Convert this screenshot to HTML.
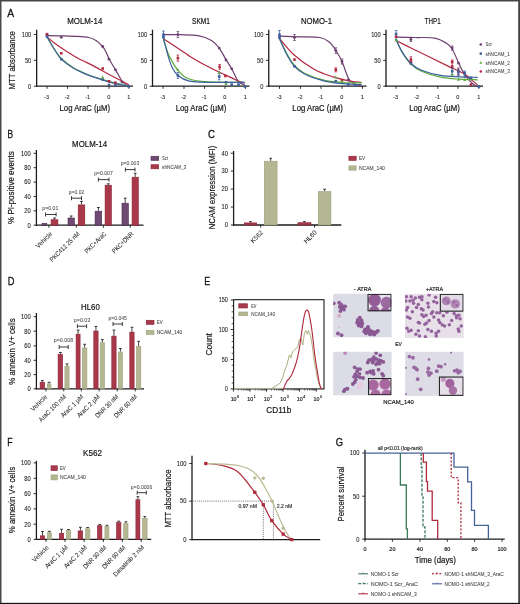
<!DOCTYPE html>
<html><head><meta charset="utf-8"><style>
html,body{margin:0;padding:0;background:#fff;width:520px;height:604px;overflow:hidden}
#w{will-change:transform;width:520px;height:604px}
svg{display:block}
text{font-family:"Liberation Sans", sans-serif}
</style></head><body><div id="w">
<svg width="520" height="604" viewBox="0 0 520 604">
<rect width="520" height="604" fill="#fff"/>
<rect x="0" y="0" width="520" height="1.5" fill="#464646"/>
<rect x="0" y="0" width="1.5" height="604" fill="#4a4a4a"/>
<rect x="518.2" y="0" width="1.8" height="604" fill="#444"/>
<rect x="0" y="602.85" width="520" height="1.15" fill="#111"/>
<text x="7.30" y="16.90" font-size="11.4" text-anchor="start" fill="#111" textLength="6.90" lengthAdjust="spacingAndGlyphs" stroke="#111" stroke-width="0.3">A</text>
<text x="15.40" y="60.30" font-size="9.2" text-anchor="middle" fill="#161616" transform="rotate(-90 15.40 60.30)" textLength="58.20" lengthAdjust="spacingAndGlyphs" stroke="#161616" stroke-width="0.2">MTT absorbance</text>
<line x1="36.65" y1="29.70" x2="36.65" y2="86.85" stroke="#1c1c1c" stroke-width="1.3"/>
<line x1="36.00" y1="86.20" x2="133.00" y2="86.20" stroke="#1c1c1c" stroke-width="1.3"/>
<line x1="33.85" y1="34.50" x2="36.65" y2="34.50" stroke="#1c1c1c" stroke-width="0.9"/>
<text x="31.25" y="36.90" font-size="6.6" text-anchor="end" fill="#222" textLength="9.47" lengthAdjust="spacingAndGlyphs" stroke="#222" stroke-width="0.08">100</text>
<line x1="33.85" y1="60.35" x2="36.65" y2="60.35" stroke="#1c1c1c" stroke-width="0.9"/>
<text x="31.25" y="62.75" font-size="6.6" text-anchor="end" fill="#222" textLength="6.31" lengthAdjust="spacingAndGlyphs" stroke="#222" stroke-width="0.08">50</text>
<line x1="33.85" y1="86.20" x2="36.65" y2="86.20" stroke="#1c1c1c" stroke-width="0.9"/>
<text x="31.25" y="88.60" font-size="6.6" text-anchor="end" fill="#222" textLength="3.16" lengthAdjust="spacingAndGlyphs" stroke="#222" stroke-width="0.08">0</text>
<line x1="47.00" y1="86.20" x2="47.00" y2="88.80" stroke="#1c1c1c" stroke-width="0.9"/>
<text x="46.70" y="98.90" font-size="6.2" text-anchor="middle" fill="#222" textLength="4.96" lengthAdjust="spacingAndGlyphs" stroke="#222" stroke-width="0.08">-3</text>
<line x1="67.50" y1="86.20" x2="67.50" y2="88.80" stroke="#1c1c1c" stroke-width="0.9"/>
<text x="67.20" y="98.90" font-size="6.2" text-anchor="middle" fill="#222" textLength="4.96" lengthAdjust="spacingAndGlyphs" stroke="#222" stroke-width="0.08">-2</text>
<line x1="88.00" y1="86.20" x2="88.00" y2="88.80" stroke="#1c1c1c" stroke-width="0.9"/>
<text x="87.70" y="98.90" font-size="6.2" text-anchor="middle" fill="#222" textLength="4.96" lengthAdjust="spacingAndGlyphs" stroke="#222" stroke-width="0.08">-1</text>
<line x1="109.00" y1="86.20" x2="109.00" y2="88.80" stroke="#1c1c1c" stroke-width="0.9"/>
<text x="108.70" y="98.90" font-size="6.2" text-anchor="middle" fill="#222" textLength="3.10" lengthAdjust="spacingAndGlyphs" stroke="#222" stroke-width="0.08">0</text>
<line x1="129.00" y1="86.20" x2="129.00" y2="88.80" stroke="#1c1c1c" stroke-width="0.9"/>
<text x="128.70" y="98.90" font-size="6.2" text-anchor="middle" fill="#222" textLength="3.10" lengthAdjust="spacingAndGlyphs" stroke="#222" stroke-width="0.08">1</text>
<text x="84.83" y="110.60" font-size="8.8" text-anchor="middle" fill="#161616" textLength="50.60" lengthAdjust="spacingAndGlyphs" stroke="#161616" stroke-width="0.2">Log AraC (µM)</text>
<text x="84.75" y="24.40" font-size="8.8" text-anchor="middle" fill="#161616" textLength="35.10" lengthAdjust="spacingAndGlyphs" stroke="#161616" stroke-width="0.2">MOLM-14</text>
<line x1="152.50" y1="29.70" x2="152.50" y2="86.85" stroke="#1c1c1c" stroke-width="1.3"/>
<line x1="151.85" y1="86.20" x2="249.50" y2="86.20" stroke="#1c1c1c" stroke-width="1.3"/>
<line x1="149.70" y1="34.50" x2="152.50" y2="34.50" stroke="#1c1c1c" stroke-width="0.9"/>
<text x="147.10" y="36.90" font-size="6.6" text-anchor="end" fill="#222" textLength="9.47" lengthAdjust="spacingAndGlyphs" stroke="#222" stroke-width="0.08">100</text>
<line x1="149.70" y1="60.35" x2="152.50" y2="60.35" stroke="#1c1c1c" stroke-width="0.9"/>
<text x="147.10" y="62.75" font-size="6.6" text-anchor="end" fill="#222" textLength="6.31" lengthAdjust="spacingAndGlyphs" stroke="#222" stroke-width="0.08">50</text>
<line x1="149.70" y1="86.20" x2="152.50" y2="86.20" stroke="#1c1c1c" stroke-width="0.9"/>
<text x="147.10" y="88.60" font-size="6.6" text-anchor="end" fill="#222" textLength="3.16" lengthAdjust="spacingAndGlyphs" stroke="#222" stroke-width="0.08">0</text>
<line x1="163.00" y1="86.20" x2="163.00" y2="88.80" stroke="#1c1c1c" stroke-width="0.9"/>
<text x="162.70" y="98.90" font-size="6.2" text-anchor="middle" fill="#222" textLength="4.96" lengthAdjust="spacingAndGlyphs" stroke="#222" stroke-width="0.08">-3</text>
<line x1="184.00" y1="86.20" x2="184.00" y2="88.80" stroke="#1c1c1c" stroke-width="0.9"/>
<text x="183.70" y="98.90" font-size="6.2" text-anchor="middle" fill="#222" textLength="4.96" lengthAdjust="spacingAndGlyphs" stroke="#222" stroke-width="0.08">-2</text>
<line x1="204.50" y1="86.20" x2="204.50" y2="88.80" stroke="#1c1c1c" stroke-width="0.9"/>
<text x="204.20" y="98.90" font-size="6.2" text-anchor="middle" fill="#222" textLength="4.96" lengthAdjust="spacingAndGlyphs" stroke="#222" stroke-width="0.08">-1</text>
<line x1="225.00" y1="86.20" x2="225.00" y2="88.80" stroke="#1c1c1c" stroke-width="0.9"/>
<text x="224.70" y="98.90" font-size="6.2" text-anchor="middle" fill="#222" textLength="3.10" lengthAdjust="spacingAndGlyphs" stroke="#222" stroke-width="0.08">0</text>
<line x1="245.50" y1="86.20" x2="245.50" y2="88.80" stroke="#1c1c1c" stroke-width="0.9"/>
<text x="245.20" y="98.90" font-size="6.2" text-anchor="middle" fill="#222" textLength="3.10" lengthAdjust="spacingAndGlyphs" stroke="#222" stroke-width="0.08">1</text>
<text x="201.00" y="110.60" font-size="8.8" text-anchor="middle" fill="#161616" textLength="50.60" lengthAdjust="spacingAndGlyphs" stroke="#161616" stroke-width="0.2">Log AraC (µM)</text>
<text x="201.00" y="24.40" font-size="8.8" text-anchor="middle" fill="#161616" textLength="18.00" lengthAdjust="spacingAndGlyphs" stroke="#161616" stroke-width="0.2">SKM1</text>
<line x1="268.75" y1="29.70" x2="268.75" y2="86.85" stroke="#1c1c1c" stroke-width="1.3"/>
<line x1="268.10" y1="86.20" x2="366.50" y2="86.20" stroke="#1c1c1c" stroke-width="1.3"/>
<line x1="265.95" y1="34.50" x2="268.75" y2="34.50" stroke="#1c1c1c" stroke-width="0.9"/>
<text x="263.35" y="36.90" font-size="6.6" text-anchor="end" fill="#222" textLength="9.47" lengthAdjust="spacingAndGlyphs" stroke="#222" stroke-width="0.08">100</text>
<line x1="265.95" y1="60.35" x2="268.75" y2="60.35" stroke="#1c1c1c" stroke-width="0.9"/>
<text x="263.35" y="62.75" font-size="6.6" text-anchor="end" fill="#222" textLength="6.31" lengthAdjust="spacingAndGlyphs" stroke="#222" stroke-width="0.08">50</text>
<line x1="265.95" y1="86.20" x2="268.75" y2="86.20" stroke="#1c1c1c" stroke-width="0.9"/>
<text x="263.35" y="88.60" font-size="6.6" text-anchor="end" fill="#222" textLength="3.16" lengthAdjust="spacingAndGlyphs" stroke="#222" stroke-width="0.08">0</text>
<line x1="279.50" y1="86.20" x2="279.50" y2="88.80" stroke="#1c1c1c" stroke-width="0.9"/>
<text x="279.20" y="98.90" font-size="6.2" text-anchor="middle" fill="#222" textLength="4.96" lengthAdjust="spacingAndGlyphs" stroke="#222" stroke-width="0.08">-3</text>
<line x1="300.50" y1="86.20" x2="300.50" y2="88.80" stroke="#1c1c1c" stroke-width="0.9"/>
<text x="300.20" y="98.90" font-size="6.2" text-anchor="middle" fill="#222" textLength="4.96" lengthAdjust="spacingAndGlyphs" stroke="#222" stroke-width="0.08">-2</text>
<line x1="321.00" y1="86.20" x2="321.00" y2="88.80" stroke="#1c1c1c" stroke-width="0.9"/>
<text x="320.70" y="98.90" font-size="6.2" text-anchor="middle" fill="#222" textLength="4.96" lengthAdjust="spacingAndGlyphs" stroke="#222" stroke-width="0.08">-1</text>
<line x1="342.00" y1="86.20" x2="342.00" y2="88.80" stroke="#1c1c1c" stroke-width="0.9"/>
<text x="341.70" y="98.90" font-size="6.2" text-anchor="middle" fill="#222" textLength="3.10" lengthAdjust="spacingAndGlyphs" stroke="#222" stroke-width="0.08">0</text>
<line x1="362.50" y1="86.20" x2="362.50" y2="88.80" stroke="#1c1c1c" stroke-width="0.9"/>
<text x="362.20" y="98.90" font-size="6.2" text-anchor="middle" fill="#222" textLength="3.10" lengthAdjust="spacingAndGlyphs" stroke="#222" stroke-width="0.08">1</text>
<text x="317.62" y="110.60" font-size="8.8" text-anchor="middle" fill="#161616" textLength="50.60" lengthAdjust="spacingAndGlyphs" stroke="#161616" stroke-width="0.2">Log AraC (µM)</text>
<text x="316.50" y="24.40" font-size="8.8" text-anchor="middle" fill="#161616" textLength="31.00" lengthAdjust="spacingAndGlyphs" stroke="#161616" stroke-width="0.2">NOMO-1</text>
<line x1="386.00" y1="29.70" x2="386.00" y2="86.85" stroke="#1c1c1c" stroke-width="1.3"/>
<line x1="385.35" y1="86.20" x2="483.00" y2="86.20" stroke="#1c1c1c" stroke-width="1.3"/>
<line x1="383.20" y1="34.50" x2="386.00" y2="34.50" stroke="#1c1c1c" stroke-width="0.9"/>
<text x="380.60" y="36.90" font-size="6.6" text-anchor="end" fill="#222" textLength="9.47" lengthAdjust="spacingAndGlyphs" stroke="#222" stroke-width="0.08">100</text>
<line x1="383.20" y1="60.35" x2="386.00" y2="60.35" stroke="#1c1c1c" stroke-width="0.9"/>
<text x="380.60" y="62.75" font-size="6.6" text-anchor="end" fill="#222" textLength="6.31" lengthAdjust="spacingAndGlyphs" stroke="#222" stroke-width="0.08">50</text>
<line x1="383.20" y1="86.20" x2="386.00" y2="86.20" stroke="#1c1c1c" stroke-width="0.9"/>
<text x="380.60" y="88.60" font-size="6.6" text-anchor="end" fill="#222" textLength="3.16" lengthAdjust="spacingAndGlyphs" stroke="#222" stroke-width="0.08">0</text>
<line x1="396.00" y1="86.20" x2="396.00" y2="88.80" stroke="#1c1c1c" stroke-width="0.9"/>
<text x="395.70" y="98.90" font-size="6.2" text-anchor="middle" fill="#222" textLength="4.96" lengthAdjust="spacingAndGlyphs" stroke="#222" stroke-width="0.08">-3</text>
<line x1="417.00" y1="86.20" x2="417.00" y2="88.80" stroke="#1c1c1c" stroke-width="0.9"/>
<text x="416.70" y="98.90" font-size="6.2" text-anchor="middle" fill="#222" textLength="4.96" lengthAdjust="spacingAndGlyphs" stroke="#222" stroke-width="0.08">-2</text>
<line x1="437.80" y1="86.20" x2="437.80" y2="88.80" stroke="#1c1c1c" stroke-width="0.9"/>
<text x="437.50" y="98.90" font-size="6.2" text-anchor="middle" fill="#222" textLength="4.96" lengthAdjust="spacingAndGlyphs" stroke="#222" stroke-width="0.08">-1</text>
<line x1="458.00" y1="86.20" x2="458.00" y2="88.80" stroke="#1c1c1c" stroke-width="0.9"/>
<text x="457.70" y="98.90" font-size="6.2" text-anchor="middle" fill="#222" textLength="3.10" lengthAdjust="spacingAndGlyphs" stroke="#222" stroke-width="0.08">0</text>
<line x1="479.00" y1="86.20" x2="479.00" y2="88.80" stroke="#1c1c1c" stroke-width="0.9"/>
<text x="478.70" y="98.90" font-size="6.2" text-anchor="middle" fill="#222" textLength="3.10" lengthAdjust="spacingAndGlyphs" stroke="#222" stroke-width="0.08">1</text>
<text x="434.50" y="110.60" font-size="8.8" text-anchor="middle" fill="#161616" textLength="50.60" lengthAdjust="spacingAndGlyphs" stroke="#161616" stroke-width="0.2">Log AraC (µM)</text>
<text x="432.70" y="24.40" font-size="8.8" text-anchor="middle" fill="#161616" textLength="16.00" lengthAdjust="spacingAndGlyphs" stroke="#161616" stroke-width="0.2">THP1</text>
<path d="M46.90,35.60 C49.08,35.63 55.32,35.68 60.00,35.80 C64.68,35.92 70.20,36.02 75.00,36.30 C79.80,36.58 85.30,36.80 88.80,37.50 C92.30,38.20 93.75,39.05 96.00,40.50 C98.25,41.95 100.63,44.28 102.30,46.20 C103.97,48.12 104.88,49.92 106.00,52.00 C107.12,54.08 107.43,55.77 109.00,58.70 C110.57,61.63 113.15,65.77 115.40,69.60 C117.65,73.43 120.35,78.93 122.50,81.70 C124.65,84.47 127.33,85.45 128.30,86.20" stroke="#6b3f6f" stroke-width="1.2" fill="none" stroke-linecap="round"/>
<path d="M46.90,36.80 C48.08,37.80 51.50,40.88 54.00,42.80 C56.50,44.72 58.13,45.87 61.90,48.30 C65.67,50.73 71.12,54.35 76.60,57.40 C82.08,60.45 89.32,63.70 94.80,66.60 C100.28,69.50 105.23,72.52 109.50,74.80 C113.77,77.08 117.27,78.67 120.40,80.30 C123.53,81.93 126.98,83.88 128.30,84.60" stroke="#b3283f" stroke-width="1.2" fill="none" stroke-linecap="round"/>
<path d="M46.90,36.50 C48.08,38.58 51.60,45.33 54.00,49.00 C56.40,52.67 58.05,55.37 61.30,58.50 C64.55,61.63 68.92,65.05 73.50,67.80 C78.08,70.55 84.00,73.07 88.80,75.00 C93.60,76.93 97.80,78.03 102.30,79.40 C106.80,80.77 111.47,82.07 115.80,83.20 C120.13,84.33 126.22,85.70 128.30,86.20" stroke="#5aaa3c" stroke-width="1.2" fill="none" stroke-linecap="round"/>
<path d="M46.90,36.50 C48.08,38.50 51.60,44.72 54.00,48.50 C56.40,52.28 58.05,55.90 61.30,59.20 C64.55,62.50 68.92,65.60 73.50,68.30 C78.08,71.00 84.00,73.48 88.80,75.40 C93.60,77.32 97.80,78.42 102.30,79.80 C106.80,81.18 111.47,82.63 115.80,83.70 C120.13,84.77 126.22,85.78 128.30,86.20" stroke="#3d5f9c" stroke-width="1.2" fill="none" stroke-linecap="round"/>
<circle cx="61.30" cy="37.30" r="1.4" fill="#6b3f6f"/>
<circle cx="102.70" cy="46.50" r="1.4" fill="#6b3f6f"/>
<circle cx="109.00" cy="59.20" r="1.4" fill="#6b3f6f"/>
<circle cx="115.40" cy="69.80" r="1.4" fill="#6b3f6f"/>
<circle cx="121.90" cy="82.10" r="1.4" fill="#6b3f6f"/>
<rect x="60.00" y="52.00" width="2.60" height="2.60" fill="#b3283f"/>
<rect x="101.40" y="67.20" width="2.60" height="2.60" fill="#b3283f"/>
<rect x="107.70" y="80.00" width="2.60" height="2.60" fill="#b3283f"/>
<rect x="114.10" y="81.40" width="2.60" height="2.60" fill="#b3283f"/>
<rect x="60.00" y="57.90" width="2.60" height="2.60" fill="#3d5f9c"/>
<rect x="101.40" y="78.20" width="2.60" height="2.60" fill="#3d5f9c"/>
<rect x="107.70" y="83.70" width="2.60" height="2.60" fill="#3d5f9c"/>
<rect x="114.10" y="83.90" width="2.60" height="2.60" fill="#3d5f9c"/>
<rect x="127.20" y="84.90" width="2.60" height="2.60" fill="#3d5f9c"/>
<rect x="45.70" y="33.70" width="2.60" height="2.60" fill="#3d5f9c"/>
<rect x="45.70" y="35.20" width="2.60" height="2.60" fill="#3d5f9c"/>
<circle cx="47.00" cy="34.20" r="1.4" fill="#b3283f"/>
<path d="M101.20,78.40 L104.20,78.40 L102.70,75.44 Z" fill="#5aaa3c"/>
<path d="M163.50,34.60 C166.25,34.62 174.25,34.53 180.00,34.70 C185.75,34.87 192.75,34.65 198.00,35.60 C203.25,36.55 207.97,38.32 211.50,40.40 C215.03,42.48 216.78,44.90 219.20,48.10 C221.62,51.30 223.92,56.15 226.00,59.60 C228.08,63.05 229.62,65.12 231.70,68.80 C233.78,72.48 236.42,79.07 238.50,81.70 C240.58,84.33 243.25,84.12 244.20,84.60" stroke="#6b3f6f" stroke-width="1.2" fill="none" stroke-linecap="round"/>
<path d="M163.80,39.10 C166.15,40.63 173.27,45.25 177.90,48.30 C182.53,51.35 187.18,54.67 191.60,57.40 C196.02,60.13 199.83,62.27 204.40,64.70 C208.97,67.13 214.43,69.80 219.00,72.00 C223.57,74.20 228.60,76.40 231.80,77.90 C235.00,79.40 236.07,80.15 238.20,81.00 C240.33,81.85 243.53,82.67 244.60,83.00" stroke="#b3283f" stroke-width="1.2" fill="none" stroke-linecap="round"/>
<path d="M163.50,38.80 C164.17,41.00 166.22,48.53 167.50,52.00 C168.78,55.47 169.47,56.57 171.20,59.60 C172.93,62.63 175.02,67.00 177.90,70.20 C180.78,73.40 183.53,76.85 188.50,78.80 C193.47,80.75 198.42,81.32 207.70,81.90 C216.98,82.48 238.12,82.23 244.20,82.30" stroke="#5aaa3c" stroke-width="1.2" fill="none" stroke-linecap="round"/>
<path d="M163.50,38.80 C164.00,40.67 165.55,46.53 166.50,50.00 C167.45,53.47 168.12,56.43 169.20,59.60 C170.28,62.77 171.55,66.37 173.00,69.00 C174.45,71.63 175.32,73.43 177.90,75.40 C180.48,77.37 183.53,79.65 188.50,80.80 C193.47,81.95 198.42,82.05 207.70,82.30 C216.98,82.55 238.12,82.30 244.20,82.30" stroke="#3d5f9c" stroke-width="1.2" fill="none" stroke-linecap="round"/>
<line x1="177.90" y1="31.60" x2="177.90" y2="37.60" stroke="#6b3f6f" stroke-width="0.8"/>
<line x1="176.60" y1="31.60" x2="179.20" y2="31.60" stroke="#6b3f6f" stroke-width="0.8"/>
<line x1="176.60" y1="37.60" x2="179.20" y2="37.60" stroke="#6b3f6f" stroke-width="0.8"/>
<circle cx="177.90" cy="34.60" r="1.4" fill="#6b3f6f"/>
<circle cx="219.20" cy="48.10" r="1.4" fill="#6b3f6f"/>
<circle cx="226.00" cy="60.00" r="1.4" fill="#6b3f6f"/>
<circle cx="231.70" cy="68.80" r="1.4" fill="#6b3f6f"/>
<line x1="177.90" y1="55.00" x2="177.90" y2="61.20" stroke="#b3283f" stroke-width="0.8"/>
<line x1="176.60" y1="55.00" x2="179.20" y2="55.00" stroke="#b3283f" stroke-width="0.8"/>
<line x1="176.60" y1="61.20" x2="179.20" y2="61.20" stroke="#b3283f" stroke-width="0.8"/>
<rect x="176.60" y="56.80" width="2.60" height="2.60" fill="#b3283f"/>
<line x1="219.60" y1="64.50" x2="219.60" y2="69.30" stroke="#b3283f" stroke-width="0.8"/>
<line x1="218.30" y1="64.50" x2="220.90" y2="64.50" stroke="#b3283f" stroke-width="0.8"/>
<line x1="218.30" y1="69.30" x2="220.90" y2="69.30" stroke="#b3283f" stroke-width="0.8"/>
<rect x="218.30" y="65.60" width="2.60" height="2.60" fill="#b3283f"/>
<rect x="224.10" y="74.70" width="2.60" height="2.60" fill="#b3283f"/>
<line x1="177.90" y1="72.50" x2="177.90" y2="78.30" stroke="#3d5f9c" stroke-width="0.8"/>
<line x1="176.60" y1="72.50" x2="179.20" y2="72.50" stroke="#3d5f9c" stroke-width="0.8"/>
<line x1="176.60" y1="78.30" x2="179.20" y2="78.30" stroke="#3d5f9c" stroke-width="0.8"/>
<rect x="176.60" y="74.10" width="2.60" height="2.60" fill="#3d5f9c"/>
<line x1="219.20" y1="73.20" x2="219.20" y2="79.80" stroke="#3d5f9c" stroke-width="0.8"/>
<line x1="217.90" y1="73.20" x2="220.50" y2="73.20" stroke="#3d5f9c" stroke-width="0.8"/>
<line x1="217.90" y1="79.80" x2="220.50" y2="79.80" stroke="#3d5f9c" stroke-width="0.8"/>
<rect x="217.90" y="75.20" width="2.60" height="2.60" fill="#3d5f9c"/>
<rect x="224.70" y="81.00" width="2.60" height="2.60" fill="#3d5f9c"/>
<rect x="230.40" y="83.30" width="2.60" height="2.60" fill="#3d5f9c"/>
<rect x="237.20" y="83.30" width="2.60" height="2.60" fill="#3d5f9c"/>
<rect x="243.70" y="85.20" width="2.60" height="2.60" fill="#3d5f9c"/>
<line x1="163.50" y1="31.00" x2="163.50" y2="38.00" stroke="#3d5f9c" stroke-width="0.8"/>
<line x1="162.20" y1="31.00" x2="164.80" y2="31.00" stroke="#3d5f9c" stroke-width="0.8"/>
<line x1="162.20" y1="38.00" x2="164.80" y2="38.00" stroke="#3d5f9c" stroke-width="0.8"/>
<rect x="162.20" y="33.40" width="2.60" height="2.60" fill="#3d5f9c"/>
<rect x="162.20" y="35.70" width="2.60" height="2.60" fill="#3d5f9c"/>
<path d="M176.40,70.90 L179.40,70.90 L177.90,67.94 Z" fill="#5aaa3c"/>
<path d="M217.70,73.50 L220.70,73.50 L219.20,70.54 Z" fill="#5aaa3c"/>
<path d="M224.50,85.20 L227.50,85.20 L226.00,82.24 Z" fill="#5aaa3c"/>
<path d="M279.50,36.20 C282.92,36.30 293.28,36.58 300.00,36.80 C306.72,37.02 314.88,36.58 319.80,37.50 C324.72,38.42 326.77,40.05 329.50,42.30 C332.23,44.55 334.12,47.80 336.20,51.00 C338.28,54.20 339.92,56.87 342.00,61.50 C344.08,66.13 346.62,75.10 348.70,78.80 C350.78,82.50 352.42,82.47 354.50,83.70 C356.58,84.93 360.08,85.78 361.20,86.20" stroke="#6b3f6f" stroke-width="1.2" fill="none" stroke-linecap="round"/>
<path d="M279.50,38.50 C281.90,41.22 288.15,49.68 293.90,54.80 C299.65,59.92 307.43,65.52 314.00,69.20 C320.57,72.88 327.52,74.97 333.30,76.90 C339.08,78.83 344.05,79.90 348.70,80.80 C353.35,81.70 359.12,82.05 361.20,82.30" stroke="#b3283f" stroke-width="1.2" fill="none" stroke-linecap="round"/>
<path d="M279.50,38.80 C280.75,41.33 284.50,49.55 287.00,54.00 C289.50,58.45 291.58,62.28 294.50,65.50 C297.42,68.72 299.63,70.85 304.50,73.30 C309.37,75.75 317.30,78.67 323.70,80.20 C330.10,81.73 336.65,82.07 342.90,82.50 C349.15,82.93 358.15,82.75 361.20,82.80" stroke="#5aaa3c" stroke-width="1.2" fill="none" stroke-linecap="round"/>
<path d="M279.50,38.80 C280.75,41.50 284.50,50.42 287.00,55.00 C289.50,59.58 291.58,63.13 294.50,66.30 C297.42,69.47 299.63,71.58 304.50,74.00 C309.37,76.42 317.30,79.18 323.70,80.80 C330.10,82.42 336.65,83.07 342.90,83.70 C349.15,84.33 358.15,84.45 361.20,84.60" stroke="#3d5f9c" stroke-width="1.2" fill="none" stroke-linecap="round"/>
<line x1="294.50" y1="34.50" x2="294.50" y2="40.50" stroke="#6b3f6f" stroke-width="0.8"/>
<line x1="293.20" y1="34.50" x2="295.80" y2="34.50" stroke="#6b3f6f" stroke-width="0.8"/>
<line x1="293.20" y1="40.50" x2="295.80" y2="40.50" stroke="#6b3f6f" stroke-width="0.8"/>
<circle cx="294.50" cy="37.50" r="1.4" fill="#6b3f6f"/>
<line x1="335.80" y1="47.80" x2="335.80" y2="53.40" stroke="#6b3f6f" stroke-width="0.8"/>
<line x1="334.50" y1="47.80" x2="337.10" y2="47.80" stroke="#6b3f6f" stroke-width="0.8"/>
<line x1="334.50" y1="53.40" x2="337.10" y2="53.40" stroke="#6b3f6f" stroke-width="0.8"/>
<circle cx="335.80" cy="50.60" r="1.4" fill="#6b3f6f"/>
<line x1="342.00" y1="59.00" x2="342.00" y2="64.00" stroke="#6b3f6f" stroke-width="0.8"/>
<line x1="340.70" y1="59.00" x2="343.30" y2="59.00" stroke="#6b3f6f" stroke-width="0.8"/>
<line x1="340.70" y1="64.00" x2="343.30" y2="64.00" stroke="#6b3f6f" stroke-width="0.8"/>
<circle cx="342.00" cy="61.50" r="1.4" fill="#6b3f6f"/>
<circle cx="348.30" cy="79.80" r="1.4" fill="#6b3f6f"/>
<rect x="293.20" y="58.30" width="2.60" height="2.60" fill="#b3283f"/>
<line x1="335.80" y1="67.80" x2="335.80" y2="71.80" stroke="#b3283f" stroke-width="0.8"/>
<line x1="334.50" y1="67.80" x2="337.10" y2="67.80" stroke="#b3283f" stroke-width="0.8"/>
<line x1="334.50" y1="71.80" x2="337.10" y2="71.80" stroke="#b3283f" stroke-width="0.8"/>
<rect x="334.50" y="68.50" width="2.60" height="2.60" fill="#b3283f"/>
<rect x="340.70" y="78.90" width="2.60" height="2.60" fill="#b3283f"/>
<rect x="293.20" y="65.00" width="2.60" height="2.60" fill="#3d5f9c"/>
<rect x="334.50" y="79.90" width="2.60" height="2.60" fill="#3d5f9c"/>
<rect x="347.00" y="83.20" width="2.60" height="2.60" fill="#3d5f9c"/>
<rect x="353.70" y="84.20" width="2.60" height="2.60" fill="#3d5f9c"/>
<line x1="279.50" y1="30.50" x2="279.50" y2="38.50" stroke="#3d5f9c" stroke-width="0.8"/>
<line x1="278.20" y1="30.50" x2="280.80" y2="30.50" stroke="#3d5f9c" stroke-width="0.8"/>
<line x1="278.20" y1="38.50" x2="280.80" y2="38.50" stroke="#3d5f9c" stroke-width="0.8"/>
<rect x="278.20" y="33.50" width="2.60" height="2.60" fill="#3d5f9c"/>
<rect x="278.20" y="35.70" width="2.60" height="2.60" fill="#3d5f9c"/>
<path d="M334.30,78.40 L337.30,78.40 L335.80,75.44 Z" fill="#5aaa3c"/>
<path d="M340.50,82.70 L343.50,82.70 L342.00,79.74 Z" fill="#5aaa3c"/>
<path d="M396.10,37.10 C399.25,37.17 408.53,37.33 415.00,37.50 C421.47,37.67 429.65,37.13 434.90,38.10 C440.15,39.07 443.62,41.48 446.50,43.30 C449.38,45.12 450.28,45.97 452.20,49.00 C454.12,52.03 456.07,57.48 458.00,61.50 C459.93,65.52 461.55,69.57 463.80,73.10 C466.05,76.63 469.27,80.47 471.50,82.70 C473.73,84.93 476.25,85.87 477.20,86.50" stroke="#6b3f6f" stroke-width="1.2" fill="none" stroke-linecap="round"/>
<path d="M396.10,40.50 C398.92,41.92 407.35,46.20 413.00,49.00 C418.65,51.80 424.33,54.53 430.00,57.30 C435.67,60.07 441.33,62.85 447.00,65.60 C452.67,68.35 460.00,71.48 464.00,73.80 C468.00,76.12 468.80,77.70 471.00,79.50 C473.20,81.30 476.17,83.75 477.20,84.60" stroke="#b3283f" stroke-width="1.2" fill="none" stroke-linecap="round"/>
<path d="M396.10,39.40 C397.12,41.57 399.73,48.30 402.20,52.40 C404.67,56.50 407.68,60.87 410.90,64.00 C414.12,67.13 416.53,69.00 421.50,71.20 C426.47,73.40 434.30,75.87 440.70,77.20 C447.10,78.53 453.82,78.77 459.90,79.20 C465.98,79.63 474.32,79.70 477.20,79.80" stroke="#5aaa3c" stroke-width="1.2" fill="none" stroke-linecap="round"/>
<path d="M396.10,39.40 C397.12,41.48 399.73,47.88 402.20,51.90 C404.67,55.92 407.68,60.45 410.90,63.50 C414.12,66.55 416.53,68.22 421.50,70.20 C426.47,72.18 434.30,74.28 440.70,75.40 C447.10,76.52 453.82,76.58 459.90,76.90 C465.98,77.22 474.32,77.23 477.20,77.30" stroke="#3d5f9c" stroke-width="1.2" fill="none" stroke-linecap="round"/>
<line x1="396.10" y1="30.50" x2="396.10" y2="40.00" stroke="#3d5f9c" stroke-width="0.8"/>
<line x1="394.80" y1="30.50" x2="397.40" y2="30.50" stroke="#3d5f9c" stroke-width="0.8"/>
<line x1="394.80" y1="40.00" x2="397.40" y2="40.00" stroke="#3d5f9c" stroke-width="0.8"/>
<rect x="394.80" y="32.70" width="2.60" height="2.60" fill="#3d5f9c"/>
<rect x="394.80" y="35.50" width="2.60" height="2.60" fill="#b3283f"/>
<path d="M394.60,41.20 L397.60,41.20 L396.10,38.24 Z" fill="#5aaa3c"/>
<line x1="410.90" y1="37.40" x2="410.90" y2="41.40" stroke="#6b3f6f" stroke-width="0.8"/>
<line x1="409.60" y1="37.40" x2="412.20" y2="37.40" stroke="#6b3f6f" stroke-width="0.8"/>
<line x1="409.60" y1="41.40" x2="412.20" y2="41.40" stroke="#6b3f6f" stroke-width="0.8"/>
<circle cx="410.90" cy="39.40" r="1.4" fill="#6b3f6f"/>
<line x1="452.20" y1="46.00" x2="452.20" y2="50.20" stroke="#6b3f6f" stroke-width="0.8"/>
<line x1="450.90" y1="46.00" x2="453.50" y2="46.00" stroke="#6b3f6f" stroke-width="0.8"/>
<line x1="450.90" y1="50.20" x2="453.50" y2="50.20" stroke="#6b3f6f" stroke-width="0.8"/>
<circle cx="452.20" cy="48.10" r="1.4" fill="#6b3f6f"/>
<circle cx="458.40" cy="63.10" r="1.4" fill="#6b3f6f"/>
<circle cx="464.70" cy="73.10" r="1.4" fill="#6b3f6f"/>
<line x1="410.90" y1="56.80" x2="410.90" y2="62.50" stroke="#b3283f" stroke-width="0.8"/>
<line x1="409.60" y1="56.80" x2="412.20" y2="56.80" stroke="#b3283f" stroke-width="0.8"/>
<line x1="409.60" y1="62.50" x2="412.20" y2="62.50" stroke="#b3283f" stroke-width="0.8"/>
<rect x="409.60" y="58.30" width="2.60" height="2.60" fill="#b3283f"/>
<rect x="409.60" y="60.70" width="2.60" height="2.60" fill="#b3283f"/>
<line x1="452.20" y1="60.00" x2="452.20" y2="68.50" stroke="#b3283f" stroke-width="0.8"/>
<line x1="450.90" y1="60.00" x2="453.50" y2="60.00" stroke="#b3283f" stroke-width="0.8"/>
<line x1="450.90" y1="68.50" x2="453.50" y2="68.50" stroke="#b3283f" stroke-width="0.8"/>
<rect x="450.90" y="60.70" width="2.60" height="2.60" fill="#b3283f"/>
<rect x="450.90" y="65.20" width="2.60" height="2.60" fill="#b3283f"/>
<line x1="458.40" y1="68.00" x2="458.40" y2="74.50" stroke="#b3283f" stroke-width="0.8"/>
<line x1="457.10" y1="68.00" x2="459.70" y2="68.00" stroke="#b3283f" stroke-width="0.8"/>
<line x1="457.10" y1="74.50" x2="459.70" y2="74.50" stroke="#b3283f" stroke-width="0.8"/>
<rect x="457.10" y="69.90" width="2.60" height="2.60" fill="#b3283f"/>
<rect x="469.70" y="83.30" width="2.60" height="2.60" fill="#b3283f"/>
<rect x="409.60" y="62.20" width="2.60" height="2.60" fill="#3d5f9c"/>
<line x1="452.20" y1="68.00" x2="452.20" y2="74.50" stroke="#3d5f9c" stroke-width="0.8"/>
<line x1="450.90" y1="68.00" x2="453.50" y2="68.00" stroke="#3d5f9c" stroke-width="0.8"/>
<line x1="450.90" y1="74.50" x2="453.50" y2="74.50" stroke="#3d5f9c" stroke-width="0.8"/>
<rect x="450.90" y="69.90" width="2.60" height="2.60" fill="#3d5f9c"/>
<line x1="458.40" y1="69.00" x2="458.40" y2="75.50" stroke="#3d5f9c" stroke-width="0.8"/>
<line x1="457.10" y1="69.00" x2="459.70" y2="69.00" stroke="#3d5f9c" stroke-width="0.8"/>
<line x1="457.10" y1="75.50" x2="459.70" y2="75.50" stroke="#3d5f9c" stroke-width="0.8"/>
<rect x="457.10" y="70.80" width="2.60" height="2.60" fill="#3d5f9c"/>
<line x1="464.70" y1="71.00" x2="464.70" y2="77.00" stroke="#3d5f9c" stroke-width="0.8"/>
<line x1="463.40" y1="71.00" x2="466.00" y2="71.00" stroke="#3d5f9c" stroke-width="0.8"/>
<line x1="463.40" y1="77.00" x2="466.00" y2="77.00" stroke="#3d5f9c" stroke-width="0.8"/>
<rect x="463.40" y="72.70" width="2.60" height="2.60" fill="#3d5f9c"/>
<rect x="469.70" y="76.60" width="2.60" height="2.60" fill="#3d5f9c"/>
<path d="M450.70,75.70 L453.70,75.70 L452.20,72.74 Z" fill="#5aaa3c"/>
<path d="M456.90,80.70 L459.90,80.70 L458.40,77.74 Z" fill="#5aaa3c"/>
<path d="M463.20,81.00 L466.20,81.00 L464.70,78.04 Z" fill="#5aaa3c"/>
<rect x="477.70" y="85.20" width="2.60" height="2.60" fill="#3d5f9c"/>
<circle cx="480.80" cy="44.50" r="1.3" fill="#6b3f6f"/>
<text x="485.60" y="46.40" font-size="5.6" text-anchor="start" fill="#3a3a3a" textLength="6.40" lengthAdjust="spacingAndGlyphs" stroke="#3a3a3a" stroke-width="0.05">Scr</text>
<rect x="479.60" y="52.40" width="2.40" height="2.40" fill="#3d5f9c"/>
<text x="485.60" y="55.50" font-size="5.6" text-anchor="start" fill="#3a3a3a" textLength="24.20" lengthAdjust="spacingAndGlyphs" stroke="#3a3a3a" stroke-width="0.05">shNCAM_1</text>
<path d="M479.40,63.82 L482.20,63.82 L480.80,61.05 Z" fill="#5aaa3c"/>
<text x="485.60" y="64.50" font-size="5.6" text-anchor="start" fill="#3a3a3a" textLength="24.20" lengthAdjust="spacingAndGlyphs" stroke="#3a3a3a" stroke-width="0.05">shNCAM_2</text>
<circle cx="480.80" cy="71.50" r="1.3" fill="#b3283f"/>
<text x="485.60" y="73.40" font-size="5.6" text-anchor="start" fill="#3a3a3a" textLength="24.20" lengthAdjust="spacingAndGlyphs" stroke="#3a3a3a" stroke-width="0.05">shNCAM_3</text>
<text x="7.60" y="137.80" font-size="11.4" text-anchor="start" fill="#111" textLength="5.60" lengthAdjust="spacingAndGlyphs" stroke="#111" stroke-width="0.3">B</text>
<text x="89.60" y="146.60" font-size="8.8" text-anchor="middle" fill="#161616" textLength="35.00" lengthAdjust="spacingAndGlyphs" stroke="#161616" stroke-width="0.2">MOLM-14</text>
<text x="14.00" y="187.60" font-size="9.2" text-anchor="middle" fill="#161616" transform="rotate(-90 14.00 187.60)" textLength="72.80" lengthAdjust="spacingAndGlyphs" stroke="#161616" stroke-width="0.2">% PI-positive events</text>
<line x1="36.40" y1="150.00" x2="36.40" y2="225.85" stroke="#1c1c1c" stroke-width="1.3"/>
<line x1="33.60" y1="153.30" x2="36.40" y2="153.30" stroke="#1c1c1c" stroke-width="0.9"/>
<text x="30.80" y="155.60" font-size="6.6" text-anchor="end" fill="#222" textLength="9.69" lengthAdjust="spacingAndGlyphs" stroke="#222" stroke-width="0.08">100</text>
<line x1="33.60" y1="167.70" x2="36.40" y2="167.70" stroke="#1c1c1c" stroke-width="0.9"/>
<text x="30.80" y="170.00" font-size="6.6" text-anchor="end" fill="#222" textLength="6.46" lengthAdjust="spacingAndGlyphs" stroke="#222" stroke-width="0.08">80</text>
<line x1="33.60" y1="182.10" x2="36.40" y2="182.10" stroke="#1c1c1c" stroke-width="0.9"/>
<text x="30.80" y="184.40" font-size="6.6" text-anchor="end" fill="#222" textLength="6.46" lengthAdjust="spacingAndGlyphs" stroke="#222" stroke-width="0.08">60</text>
<line x1="33.60" y1="196.50" x2="36.40" y2="196.50" stroke="#1c1c1c" stroke-width="0.9"/>
<text x="30.80" y="198.80" font-size="6.6" text-anchor="end" fill="#222" textLength="6.46" lengthAdjust="spacingAndGlyphs" stroke="#222" stroke-width="0.08">40</text>
<line x1="33.60" y1="210.80" x2="36.40" y2="210.80" stroke="#1c1c1c" stroke-width="0.9"/>
<text x="30.80" y="213.10" font-size="6.6" text-anchor="end" fill="#222" textLength="6.46" lengthAdjust="spacingAndGlyphs" stroke="#222" stroke-width="0.08">20</text>
<line x1="33.60" y1="225.20" x2="36.40" y2="225.20" stroke="#1c1c1c" stroke-width="0.9"/>
<text x="30.80" y="227.50" font-size="6.6" text-anchor="end" fill="#222" textLength="3.23" lengthAdjust="spacingAndGlyphs" stroke="#222" stroke-width="0.08">0</text>
<line x1="35.75" y1="225.20" x2="143.50" y2="225.20" stroke="#1c1c1c" stroke-width="1.3"/>
<rect x="42.10" y="223.30" width="4.70" height="1.90" fill="#6e4a72" stroke="#4a2a50" stroke-width="0.6"/>
<line x1="54.50" y1="218.00" x2="54.50" y2="219.40" stroke="#222" stroke-width="0.85"/>
<line x1="53.10" y1="218.00" x2="55.90" y2="218.00" stroke="#222" stroke-width="0.9"/>
<rect x="51.10" y="219.70" width="6.80" height="5.50" fill="#a8394a" stroke="#8e1f35" stroke-width="0.6"/>
<line x1="48.95" y1="225.20" x2="48.95" y2="227.80" stroke="#1c1c1c" stroke-width="0.9"/>
<line x1="71.20" y1="216.00" x2="71.20" y2="217.70" stroke="#222" stroke-width="0.85"/>
<line x1="69.80" y1="216.00" x2="72.60" y2="216.00" stroke="#222" stroke-width="0.9"/>
<rect x="68.00" y="218.00" width="6.40" height="7.20" fill="#6e4a72" stroke="#4a2a50" stroke-width="0.6"/>
<line x1="81.50" y1="201.40" x2="81.50" y2="204.60" stroke="#222" stroke-width="0.85"/>
<line x1="80.10" y1="201.40" x2="82.90" y2="201.40" stroke="#222" stroke-width="0.9"/>
<rect x="78.20" y="204.90" width="6.60" height="20.30" fill="#a8394a" stroke="#8e1f35" stroke-width="0.6"/>
<line x1="76.30" y1="225.20" x2="76.30" y2="227.80" stroke="#1c1c1c" stroke-width="0.9"/>
<line x1="98.40" y1="207.50" x2="98.40" y2="210.90" stroke="#222" stroke-width="0.85"/>
<line x1="97.00" y1="207.50" x2="99.80" y2="207.50" stroke="#222" stroke-width="0.9"/>
<rect x="95.10" y="211.20" width="6.60" height="14.00" fill="#6e4a72" stroke="#4a2a50" stroke-width="0.6"/>
<line x1="108.25" y1="183.80" x2="108.25" y2="184.90" stroke="#222" stroke-width="0.85"/>
<line x1="106.85" y1="183.80" x2="109.65" y2="183.80" stroke="#222" stroke-width="0.9"/>
<rect x="105.10" y="185.20" width="6.30" height="40.00" fill="#a8394a" stroke="#8e1f35" stroke-width="0.6"/>
<line x1="103.40" y1="225.20" x2="103.40" y2="227.80" stroke="#1c1c1c" stroke-width="0.9"/>
<line x1="125.20" y1="198.20" x2="125.20" y2="202.90" stroke="#222" stroke-width="0.85"/>
<line x1="123.80" y1="198.20" x2="126.60" y2="198.20" stroke="#222" stroke-width="0.9"/>
<rect x="122.00" y="203.20" width="6.40" height="22.00" fill="#6e4a72" stroke="#4a2a50" stroke-width="0.6"/>
<line x1="135.20" y1="173.30" x2="135.20" y2="176.90" stroke="#222" stroke-width="0.85"/>
<line x1="133.80" y1="173.30" x2="136.60" y2="173.30" stroke="#222" stroke-width="0.9"/>
<rect x="132.10" y="177.20" width="6.20" height="48.00" fill="#a8394a" stroke="#8e1f35" stroke-width="0.6"/>
<line x1="130.25" y1="225.20" x2="130.25" y2="227.80" stroke="#1c1c1c" stroke-width="0.9"/>
<line x1="45.50" y1="214.50" x2="56.10" y2="214.50" stroke="#3a3a3a" stroke-width="1.0"/>
<line x1="45.50" y1="212.50" x2="45.50" y2="216.50" stroke="#3a3a3a" stroke-width="1.0"/>
<line x1="56.10" y1="212.50" x2="56.10" y2="216.50" stroke="#3a3a3a" stroke-width="1.0"/>
<text x="50.30" y="209.60" font-size="5.4" text-anchor="middle" fill="#4a4a4a" textLength="15.90" lengthAdjust="spacingAndGlyphs" stroke="#4a4a4a" stroke-width="0.05">p=0.01</text>
<line x1="71.50" y1="198.20" x2="81.50" y2="198.20" stroke="#3a3a3a" stroke-width="1.0"/>
<line x1="71.50" y1="196.20" x2="71.50" y2="200.20" stroke="#3a3a3a" stroke-width="1.0"/>
<line x1="81.50" y1="196.20" x2="81.50" y2="200.20" stroke="#3a3a3a" stroke-width="1.0"/>
<text x="76.50" y="193.80" font-size="5.4" text-anchor="middle" fill="#4a4a4a" textLength="15.40" lengthAdjust="spacingAndGlyphs" stroke="#4a4a4a" stroke-width="0.05">p=0.02</text>
<line x1="98.40" y1="179.60" x2="109.00" y2="179.60" stroke="#3a3a3a" stroke-width="1.0"/>
<line x1="98.40" y1="177.60" x2="98.40" y2="181.60" stroke="#3a3a3a" stroke-width="1.0"/>
<line x1="109.00" y1="177.60" x2="109.00" y2="181.60" stroke="#3a3a3a" stroke-width="1.0"/>
<text x="103.50" y="174.60" font-size="5.4" text-anchor="middle" fill="#4a4a4a" textLength="18.60" lengthAdjust="spacingAndGlyphs" stroke="#4a4a4a" stroke-width="0.05">p=0.007</text>
<line x1="125.40" y1="169.60" x2="135.00" y2="169.60" stroke="#3a3a3a" stroke-width="1.0"/>
<line x1="125.40" y1="167.60" x2="125.40" y2="171.60" stroke="#3a3a3a" stroke-width="1.0"/>
<line x1="135.00" y1="167.60" x2="135.00" y2="171.60" stroke="#3a3a3a" stroke-width="1.0"/>
<text x="130.00" y="165.10" font-size="5.4" text-anchor="middle" fill="#4a4a4a" textLength="18.50" lengthAdjust="spacingAndGlyphs" stroke="#4a4a4a" stroke-width="0.05">p=0.003</text>
<text x="52.80" y="234.30" font-size="6.6" text-anchor="end" fill="#262626" transform="rotate(-45 52.80 234.30)" textLength="20.43" lengthAdjust="spacingAndGlyphs" stroke="#262626" stroke-width="0.04">Vehicle</text>
<text x="80.20" y="234.30" font-size="6.6" text-anchor="end" fill="#262626" transform="rotate(-45 80.20 234.30)" textLength="39.42" lengthAdjust="spacingAndGlyphs" stroke="#262626" stroke-width="0.04">PKC412 25 nM</text>
<text x="106.80" y="234.30" font-size="6.6" text-anchor="end" fill="#262626" transform="rotate(-45 106.80 234.30)" textLength="27.55" lengthAdjust="spacingAndGlyphs" stroke="#262626" stroke-width="0.04">PKC+AraC</text>
<text x="134.00" y="234.30" font-size="6.6" text-anchor="end" fill="#262626" transform="rotate(-45 134.00 234.30)" textLength="27.55" lengthAdjust="spacingAndGlyphs" stroke="#262626" stroke-width="0.04">PKC+DNR</text>
<rect x="151.00" y="156.25" width="7.70" height="4.15" fill="#6e4a72" stroke="#4a2a50" stroke-width="0.6"/>
<text x="162.10" y="160.40" font-size="5.4" text-anchor="start" fill="#3a3a3a" textLength="6.00" lengthAdjust="spacingAndGlyphs" stroke="#3a3a3a" stroke-width="0.05">Scr</text>
<rect x="151.00" y="164.70" width="7.70" height="4.10" fill="#a8394a" stroke="#8e1f35" stroke-width="0.6"/>
<text x="162.10" y="168.80" font-size="5.4" text-anchor="start" fill="#3a3a3a" textLength="24.10" lengthAdjust="spacingAndGlyphs" stroke="#3a3a3a" stroke-width="0.05">shNCAM_3</text>
<text x="208.00" y="137.90" font-size="11.4" text-anchor="start" fill="#111" textLength="6.90" lengthAdjust="spacingAndGlyphs" stroke="#111" stroke-width="0.3">C</text>
<text x="215.40" y="187.50" font-size="9.2" text-anchor="middle" fill="#161616" transform="rotate(-90 215.40 187.50)" textLength="83.50" lengthAdjust="spacingAndGlyphs" stroke="#161616" stroke-width="0.2">NCAM expression (MFI)</text>
<line x1="233.60" y1="151.00" x2="233.60" y2="225.65" stroke="#1c1c1c" stroke-width="1.3"/>
<line x1="230.80" y1="153.20" x2="233.60" y2="153.20" stroke="#1c1c1c" stroke-width="0.9"/>
<text x="228.00" y="155.50" font-size="6.6" text-anchor="end" fill="#222" textLength="6.46" lengthAdjust="spacingAndGlyphs" stroke="#222" stroke-width="0.08">40</text>
<line x1="230.80" y1="171.10" x2="233.60" y2="171.10" stroke="#1c1c1c" stroke-width="0.9"/>
<text x="228.00" y="173.40" font-size="6.6" text-anchor="end" fill="#222" textLength="6.46" lengthAdjust="spacingAndGlyphs" stroke="#222" stroke-width="0.08">30</text>
<line x1="230.80" y1="189.10" x2="233.60" y2="189.10" stroke="#1c1c1c" stroke-width="0.9"/>
<text x="228.00" y="191.40" font-size="6.6" text-anchor="end" fill="#222" textLength="6.46" lengthAdjust="spacingAndGlyphs" stroke="#222" stroke-width="0.08">20</text>
<line x1="230.80" y1="207.00" x2="233.60" y2="207.00" stroke="#1c1c1c" stroke-width="0.9"/>
<text x="228.00" y="209.30" font-size="6.6" text-anchor="end" fill="#222" textLength="6.46" lengthAdjust="spacingAndGlyphs" stroke="#222" stroke-width="0.08">10</text>
<line x1="230.80" y1="225.00" x2="233.60" y2="225.00" stroke="#1c1c1c" stroke-width="0.9"/>
<text x="228.00" y="227.30" font-size="6.6" text-anchor="end" fill="#222" textLength="3.23" lengthAdjust="spacingAndGlyphs" stroke="#222" stroke-width="0.08">0</text>
<line x1="232.95" y1="225.00" x2="341.30" y2="225.00" stroke="#1c1c1c" stroke-width="1.3"/>
<line x1="250.50" y1="221.60" x2="250.50" y2="222.60" stroke="#222" stroke-width="0.85"/>
<line x1="249.10" y1="221.60" x2="251.90" y2="221.60" stroke="#222" stroke-width="0.9"/>
<rect x="244.30" y="222.90" width="12.40" height="2.10" fill="#a8394a" stroke="#8e1f35" stroke-width="0.6"/>
<line x1="270.70" y1="158.30" x2="270.70" y2="160.90" stroke="#222" stroke-width="0.85"/>
<line x1="269.30" y1="158.30" x2="272.10" y2="158.30" stroke="#222" stroke-width="0.9"/>
<rect x="264.30" y="161.20" width="12.80" height="63.80" fill="#b5b792" stroke="#9c9e78" stroke-width="0.6"/>
<line x1="304.45" y1="221.60" x2="304.45" y2="222.40" stroke="#222" stroke-width="0.85"/>
<line x1="303.05" y1="221.60" x2="305.85" y2="221.60" stroke="#222" stroke-width="0.9"/>
<rect x="297.90" y="222.70" width="13.10" height="2.30" fill="#a8394a" stroke="#8e1f35" stroke-width="0.6"/>
<line x1="324.60" y1="189.20" x2="324.60" y2="191.30" stroke="#222" stroke-width="0.85"/>
<line x1="323.20" y1="189.20" x2="326.00" y2="189.20" stroke="#222" stroke-width="0.9"/>
<rect x="318.30" y="191.60" width="12.60" height="33.40" fill="#b5b792" stroke="#9c9e78" stroke-width="0.6"/>
<line x1="260.60" y1="225.00" x2="260.60" y2="227.60" stroke="#1c1c1c" stroke-width="0.9"/>
<line x1="314.50" y1="225.00" x2="314.50" y2="227.60" stroke="#1c1c1c" stroke-width="0.9"/>
<text x="263.60" y="233.00" font-size="6.6" text-anchor="end" fill="#262626" transform="rotate(-45 263.60 233.00)" textLength="14.72" lengthAdjust="spacingAndGlyphs" stroke="#262626" stroke-width="0.04">K562</text>
<text x="317.20" y="233.00" font-size="6.6" text-anchor="end" fill="#262626" transform="rotate(-45 317.20 233.00)" textLength="15.20" lengthAdjust="spacingAndGlyphs" stroke="#262626" stroke-width="0.04">HL60</text>
<rect x="348.90" y="156.20" width="7.30" height="4.20" fill="#a8394a" stroke="#8e1f35" stroke-width="0.6"/>
<text x="359.00" y="160.00" font-size="5.4" text-anchor="start" fill="#3a3a3a" textLength="6.20" lengthAdjust="spacingAndGlyphs" stroke="#3a3a3a" stroke-width="0.05">EV</text>
<rect x="348.90" y="165.90" width="7.30" height="4.30" fill="#b5b792" stroke="#9c9e78" stroke-width="0.6"/>
<text x="359.00" y="169.60" font-size="5.4" text-anchor="start" fill="#3a3a3a" textLength="25.90" lengthAdjust="spacingAndGlyphs" stroke="#3a3a3a" stroke-width="0.05">NCAM_140</text>
<text x="7.70" y="285.00" font-size="11.4" text-anchor="start" fill="#111" textLength="6.70" lengthAdjust="spacingAndGlyphs" stroke="#111" stroke-width="0.3">D</text>
<text x="90.40" y="309.80" font-size="8.8" text-anchor="middle" fill="#161616" textLength="18.80" lengthAdjust="spacingAndGlyphs" stroke="#161616" stroke-width="0.2">HL60</text>
<text x="14.60" y="351.50" font-size="9.2" text-anchor="middle" fill="#161616" transform="rotate(-90 14.60 351.50)" textLength="66.50" lengthAdjust="spacingAndGlyphs" stroke="#161616" stroke-width="0.2">% annexin V+ cells</text>
<line x1="36.40" y1="313.00" x2="36.40" y2="389.45" stroke="#1c1c1c" stroke-width="1.3"/>
<line x1="33.60" y1="316.70" x2="36.40" y2="316.70" stroke="#1c1c1c" stroke-width="0.9"/>
<text x="30.80" y="319.00" font-size="6.6" text-anchor="end" fill="#222" textLength="9.69" lengthAdjust="spacingAndGlyphs" stroke="#222" stroke-width="0.08">100</text>
<line x1="33.60" y1="331.20" x2="36.40" y2="331.20" stroke="#1c1c1c" stroke-width="0.9"/>
<text x="30.80" y="333.50" font-size="6.6" text-anchor="end" fill="#222" textLength="6.46" lengthAdjust="spacingAndGlyphs" stroke="#222" stroke-width="0.08">80</text>
<line x1="33.60" y1="345.90" x2="36.40" y2="345.90" stroke="#1c1c1c" stroke-width="0.9"/>
<text x="30.80" y="348.20" font-size="6.6" text-anchor="end" fill="#222" textLength="6.46" lengthAdjust="spacingAndGlyphs" stroke="#222" stroke-width="0.08">60</text>
<line x1="33.60" y1="360.30" x2="36.40" y2="360.30" stroke="#1c1c1c" stroke-width="0.9"/>
<text x="30.80" y="362.60" font-size="6.6" text-anchor="end" fill="#222" textLength="6.46" lengthAdjust="spacingAndGlyphs" stroke="#222" stroke-width="0.08">40</text>
<line x1="33.60" y1="374.60" x2="36.40" y2="374.60" stroke="#1c1c1c" stroke-width="0.9"/>
<text x="30.80" y="376.90" font-size="6.6" text-anchor="end" fill="#222" textLength="6.46" lengthAdjust="spacingAndGlyphs" stroke="#222" stroke-width="0.08">20</text>
<line x1="33.60" y1="388.80" x2="36.40" y2="388.80" stroke="#1c1c1c" stroke-width="0.9"/>
<text x="30.80" y="391.10" font-size="6.6" text-anchor="end" fill="#222" textLength="3.23" lengthAdjust="spacingAndGlyphs" stroke="#222" stroke-width="0.08">0</text>
<line x1="35.75" y1="388.80" x2="144.00" y2="388.80" stroke="#1c1c1c" stroke-width="1.3"/>
<line x1="42.35" y1="380.60" x2="42.35" y2="381.90" stroke="#222" stroke-width="0.85"/>
<line x1="40.95" y1="380.60" x2="43.75" y2="380.60" stroke="#222" stroke-width="0.9"/>
<rect x="40.10" y="382.20" width="4.50" height="6.60" fill="#a8394a" stroke="#8e1f35" stroke-width="0.6"/>
<line x1="49.10" y1="382.30" x2="49.10" y2="383.60" stroke="#222" stroke-width="0.85"/>
<line x1="47.70" y1="382.30" x2="50.50" y2="382.30" stroke="#222" stroke-width="0.9"/>
<rect x="47.30" y="383.90" width="3.60" height="4.90" fill="#b5b792" stroke="#9c9e78" stroke-width="0.6"/>
<line x1="45.95" y1="388.80" x2="45.95" y2="391.40" stroke="#1c1c1c" stroke-width="0.9"/>
<line x1="60.35" y1="352.50" x2="60.35" y2="354.00" stroke="#222" stroke-width="0.85"/>
<line x1="58.95" y1="352.50" x2="61.75" y2="352.50" stroke="#222" stroke-width="0.9"/>
<rect x="58.10" y="354.30" width="4.50" height="34.50" fill="#a8394a" stroke="#8e1f35" stroke-width="0.6"/>
<line x1="67.00" y1="363.90" x2="67.00" y2="366.00" stroke="#222" stroke-width="0.85"/>
<line x1="65.60" y1="363.90" x2="68.40" y2="363.90" stroke="#222" stroke-width="0.9"/>
<rect x="64.90" y="366.30" width="4.20" height="22.50" fill="#b5b792" stroke="#9c9e78" stroke-width="0.6"/>
<line x1="63.75" y1="388.80" x2="63.75" y2="391.40" stroke="#1c1c1c" stroke-width="0.9"/>
<line x1="78.10" y1="330.10" x2="78.10" y2="333.90" stroke="#222" stroke-width="0.85"/>
<line x1="76.70" y1="330.10" x2="79.50" y2="330.10" stroke="#222" stroke-width="0.9"/>
<rect x="76.10" y="334.20" width="4.00" height="54.60" fill="#a8394a" stroke="#8e1f35" stroke-width="0.6"/>
<line x1="84.65" y1="344.30" x2="84.65" y2="347.70" stroke="#222" stroke-width="0.85"/>
<line x1="83.25" y1="344.30" x2="86.05" y2="344.30" stroke="#222" stroke-width="0.9"/>
<rect x="82.40" y="348.00" width="4.50" height="40.80" fill="#b5b792" stroke="#9c9e78" stroke-width="0.6"/>
<line x1="81.25" y1="388.80" x2="81.25" y2="391.40" stroke="#1c1c1c" stroke-width="0.9"/>
<line x1="95.95" y1="326.50" x2="95.95" y2="330.70" stroke="#222" stroke-width="0.85"/>
<line x1="94.55" y1="326.50" x2="97.35" y2="326.50" stroke="#222" stroke-width="0.9"/>
<rect x="93.80" y="331.00" width="4.30" height="57.80" fill="#a8394a" stroke="#8e1f35" stroke-width="0.6"/>
<line x1="102.35" y1="339.60" x2="102.35" y2="342.40" stroke="#222" stroke-width="0.85"/>
<line x1="100.95" y1="339.60" x2="103.75" y2="339.60" stroke="#222" stroke-width="0.9"/>
<rect x="100.20" y="342.70" width="4.30" height="46.10" fill="#b5b792" stroke="#9c9e78" stroke-width="0.6"/>
<line x1="99.15" y1="388.80" x2="99.15" y2="391.40" stroke="#1c1c1c" stroke-width="0.9"/>
<line x1="113.95" y1="330.10" x2="113.95" y2="335.80" stroke="#222" stroke-width="0.85"/>
<line x1="112.55" y1="330.10" x2="115.35" y2="330.10" stroke="#222" stroke-width="0.9"/>
<rect x="111.80" y="336.10" width="4.30" height="52.70" fill="#a8394a" stroke="#8e1f35" stroke-width="0.6"/>
<line x1="120.40" y1="348.50" x2="120.40" y2="351.70" stroke="#222" stroke-width="0.85"/>
<line x1="119.00" y1="348.50" x2="121.80" y2="348.50" stroke="#222" stroke-width="0.9"/>
<rect x="118.40" y="352.00" width="4.00" height="36.80" fill="#b5b792" stroke="#9c9e78" stroke-width="0.6"/>
<line x1="117.25" y1="388.80" x2="117.25" y2="391.40" stroke="#1c1c1c" stroke-width="0.9"/>
<line x1="131.95" y1="327.30" x2="131.95" y2="331.80" stroke="#222" stroke-width="0.85"/>
<line x1="130.55" y1="327.30" x2="133.35" y2="327.30" stroke="#222" stroke-width="0.9"/>
<rect x="129.80" y="332.10" width="4.30" height="56.70" fill="#a8394a" stroke="#8e1f35" stroke-width="0.6"/>
<line x1="138.60" y1="341.30" x2="138.60" y2="346.00" stroke="#222" stroke-width="0.85"/>
<line x1="137.20" y1="341.30" x2="140.00" y2="341.30" stroke="#222" stroke-width="0.9"/>
<rect x="136.40" y="346.30" width="4.40" height="42.50" fill="#b5b792" stroke="#9c9e78" stroke-width="0.6"/>
<line x1="135.25" y1="388.80" x2="135.25" y2="391.40" stroke="#1c1c1c" stroke-width="0.9"/>
<line x1="59.20" y1="347.00" x2="68.20" y2="347.00" stroke="#3a3a3a" stroke-width="1.0"/>
<line x1="59.20" y1="345.00" x2="59.20" y2="349.00" stroke="#3a3a3a" stroke-width="1.0"/>
<line x1="68.20" y1="345.00" x2="68.20" y2="349.00" stroke="#3a3a3a" stroke-width="1.0"/>
<text x="63.45" y="342.20" font-size="5.4" text-anchor="middle" fill="#4a4a4a" textLength="19.30" lengthAdjust="spacingAndGlyphs" stroke="#4a4a4a" stroke-width="0.05">p=0.008</text>
<line x1="77.40" y1="326.20" x2="86.60" y2="326.20" stroke="#3a3a3a" stroke-width="1.0"/>
<line x1="77.40" y1="324.20" x2="77.40" y2="328.20" stroke="#3a3a3a" stroke-width="1.0"/>
<line x1="86.60" y1="324.20" x2="86.60" y2="328.20" stroke="#3a3a3a" stroke-width="1.0"/>
<text x="82.05" y="321.90" font-size="5.4" text-anchor="middle" fill="#4a4a4a" textLength="16.50" lengthAdjust="spacingAndGlyphs" stroke="#4a4a4a" stroke-width="0.05">p=0.03</text>
<line x1="113.00" y1="324.00" x2="122.30" y2="324.00" stroke="#3a3a3a" stroke-width="1.0"/>
<line x1="113.00" y1="322.00" x2="113.00" y2="326.00" stroke="#3a3a3a" stroke-width="1.0"/>
<line x1="122.30" y1="322.00" x2="122.30" y2="326.00" stroke="#3a3a3a" stroke-width="1.0"/>
<text x="117.70" y="320.10" font-size="5.4" text-anchor="middle" fill="#4a4a4a" textLength="18.40" lengthAdjust="spacingAndGlyphs" stroke="#4a4a4a" stroke-width="0.05">p=0.045</text>
<text x="47.80" y="397.20" font-size="6.6" text-anchor="end" fill="#262626" transform="rotate(-45 47.80 397.20)" textLength="20.43" lengthAdjust="spacingAndGlyphs" stroke="#262626" stroke-width="0.04">Vehicle</text>
<text x="66.50" y="397.20" font-size="6.6" text-anchor="end" fill="#262626" transform="rotate(-45 66.50 397.20)" textLength="35.62" lengthAdjust="spacingAndGlyphs" stroke="#262626" stroke-width="0.04">AraC 100 nM</text>
<text x="84.00" y="397.20" font-size="6.6" text-anchor="end" fill="#262626" transform="rotate(-45 84.00 397.20)" textLength="29.45" lengthAdjust="spacingAndGlyphs" stroke="#262626" stroke-width="0.04">AraC 1 µM</text>
<text x="100.30" y="397.20" font-size="6.6" text-anchor="end" fill="#262626" transform="rotate(-45 100.30 397.20)" textLength="29.45" lengthAdjust="spacingAndGlyphs" stroke="#262626" stroke-width="0.04">AraC 2 µM</text>
<text x="119.00" y="397.20" font-size="6.6" text-anchor="end" fill="#262626" transform="rotate(-45 119.00 397.20)" textLength="29.92" lengthAdjust="spacingAndGlyphs" stroke="#262626" stroke-width="0.04">DNR 30 nM</text>
<text x="137.70" y="397.20" font-size="6.6" text-anchor="end" fill="#262626" transform="rotate(-45 137.70 397.20)" textLength="29.92" lengthAdjust="spacingAndGlyphs" stroke="#262626" stroke-width="0.04">DNR 60 nM</text>
<rect x="146.25" y="320.25" width="7.75" height="4.15" fill="#a8394a" stroke="#8e1f35" stroke-width="0.6"/>
<text x="156.80" y="324.10" font-size="5.4" text-anchor="start" fill="#3a3a3a" textLength="5.80" lengthAdjust="spacingAndGlyphs" stroke="#3a3a3a" stroke-width="0.05">EV</text>
<rect x="146.25" y="330.30" width="7.75" height="4.20" fill="#b5b792" stroke="#9c9e78" stroke-width="0.6"/>
<text x="156.80" y="334.10" font-size="5.4" text-anchor="start" fill="#3a3a3a" textLength="25.50" lengthAdjust="spacingAndGlyphs" stroke="#3a3a3a" stroke-width="0.05">NCAM_140</text>
<text x="7.30" y="446.20" font-size="11.4" text-anchor="start" fill="#111" textLength="5.30" lengthAdjust="spacingAndGlyphs" stroke="#111" stroke-width="0.3">F</text>
<text x="92.50" y="456.20" font-size="8.8" text-anchor="middle" fill="#161616" textLength="19.00" lengthAdjust="spacingAndGlyphs" stroke="#161616" stroke-width="0.2">K562</text>
<text x="14.60" y="500.00" font-size="9.2" text-anchor="middle" fill="#161616" transform="rotate(-90 14.60 500.00)" textLength="66.50" lengthAdjust="spacingAndGlyphs" stroke="#161616" stroke-width="0.2">% annexin V+ cells</text>
<line x1="36.40" y1="460.80" x2="36.40" y2="540.05" stroke="#1c1c1c" stroke-width="1.3"/>
<line x1="33.60" y1="462.90" x2="36.40" y2="462.90" stroke="#1c1c1c" stroke-width="0.9"/>
<text x="30.80" y="465.20" font-size="6.6" text-anchor="end" fill="#222" textLength="9.69" lengthAdjust="spacingAndGlyphs" stroke="#222" stroke-width="0.08">100</text>
<line x1="33.60" y1="478.30" x2="36.40" y2="478.30" stroke="#1c1c1c" stroke-width="0.9"/>
<text x="30.80" y="480.60" font-size="6.6" text-anchor="end" fill="#222" textLength="6.46" lengthAdjust="spacingAndGlyphs" stroke="#222" stroke-width="0.08">80</text>
<line x1="33.60" y1="493.60" x2="36.40" y2="493.60" stroke="#1c1c1c" stroke-width="0.9"/>
<text x="30.80" y="495.90" font-size="6.6" text-anchor="end" fill="#222" textLength="6.46" lengthAdjust="spacingAndGlyphs" stroke="#222" stroke-width="0.08">60</text>
<line x1="33.60" y1="508.90" x2="36.40" y2="508.90" stroke="#1c1c1c" stroke-width="0.9"/>
<text x="30.80" y="511.20" font-size="6.6" text-anchor="end" fill="#222" textLength="6.46" lengthAdjust="spacingAndGlyphs" stroke="#222" stroke-width="0.08">40</text>
<line x1="33.60" y1="524.20" x2="36.40" y2="524.20" stroke="#1c1c1c" stroke-width="0.9"/>
<text x="30.80" y="526.50" font-size="6.6" text-anchor="end" fill="#222" textLength="6.46" lengthAdjust="spacingAndGlyphs" stroke="#222" stroke-width="0.08">20</text>
<line x1="33.60" y1="539.40" x2="36.40" y2="539.40" stroke="#1c1c1c" stroke-width="0.9"/>
<text x="30.80" y="541.70" font-size="6.6" text-anchor="end" fill="#222" textLength="3.23" lengthAdjust="spacingAndGlyphs" stroke="#222" stroke-width="0.08">0</text>
<line x1="35.75" y1="539.40" x2="151.20" y2="539.40" stroke="#1c1c1c" stroke-width="1.3"/>
<line x1="42.50" y1="531.50" x2="42.50" y2="535.50" stroke="#222" stroke-width="0.85"/>
<line x1="41.10" y1="531.50" x2="43.90" y2="531.50" stroke="#222" stroke-width="0.9"/>
<rect x="40.30" y="535.80" width="4.40" height="3.60" fill="#a8394a" stroke="#8e1f35" stroke-width="0.6"/>
<line x1="49.35" y1="531.30" x2="49.35" y2="532.50" stroke="#222" stroke-width="0.85"/>
<line x1="47.95" y1="531.30" x2="50.75" y2="531.30" stroke="#222" stroke-width="0.9"/>
<rect x="47.30" y="532.80" width="4.10" height="6.60" fill="#b5b792" stroke="#9c9e78" stroke-width="0.6"/>
<line x1="46.00" y1="539.40" x2="46.00" y2="542.00" stroke="#1c1c1c" stroke-width="0.9"/>
<line x1="61.50" y1="529.30" x2="61.50" y2="533.00" stroke="#222" stroke-width="0.85"/>
<line x1="60.10" y1="529.30" x2="62.90" y2="529.30" stroke="#222" stroke-width="0.9"/>
<rect x="59.30" y="533.30" width="4.40" height="6.10" fill="#a8394a" stroke="#8e1f35" stroke-width="0.6"/>
<line x1="68.50" y1="529.50" x2="68.50" y2="530.30" stroke="#222" stroke-width="0.85"/>
<line x1="67.10" y1="529.50" x2="69.90" y2="529.50" stroke="#222" stroke-width="0.9"/>
<rect x="66.30" y="530.60" width="4.40" height="8.80" fill="#b5b792" stroke="#9c9e78" stroke-width="0.6"/>
<line x1="65.00" y1="539.40" x2="65.00" y2="542.00" stroke="#1c1c1c" stroke-width="0.9"/>
<line x1="80.40" y1="527.30" x2="80.40" y2="530.60" stroke="#222" stroke-width="0.85"/>
<line x1="79.00" y1="527.30" x2="81.80" y2="527.30" stroke="#222" stroke-width="0.9"/>
<rect x="78.10" y="530.90" width="4.60" height="8.50" fill="#a8394a" stroke="#8e1f35" stroke-width="0.6"/>
<line x1="87.70" y1="527.50" x2="87.70" y2="528.50" stroke="#222" stroke-width="0.85"/>
<line x1="86.30" y1="527.50" x2="89.10" y2="527.50" stroke="#222" stroke-width="0.9"/>
<rect x="85.50" y="528.80" width="4.40" height="10.60" fill="#b5b792" stroke="#9c9e78" stroke-width="0.6"/>
<line x1="84.10" y1="539.40" x2="84.10" y2="542.00" stroke="#1c1c1c" stroke-width="0.9"/>
<line x1="99.70" y1="524.60" x2="99.70" y2="525.40" stroke="#222" stroke-width="0.85"/>
<line x1="98.30" y1="524.60" x2="101.10" y2="524.60" stroke="#222" stroke-width="0.9"/>
<rect x="97.50" y="525.70" width="4.40" height="13.70" fill="#a8394a" stroke="#8e1f35" stroke-width="0.6"/>
<line x1="106.90" y1="525.30" x2="106.90" y2="526.30" stroke="#222" stroke-width="0.85"/>
<line x1="105.50" y1="525.30" x2="108.30" y2="525.30" stroke="#222" stroke-width="0.9"/>
<rect x="104.90" y="526.60" width="4.00" height="12.80" fill="#b5b792" stroke="#9c9e78" stroke-width="0.6"/>
<line x1="103.40" y1="539.40" x2="103.40" y2="542.00" stroke="#1c1c1c" stroke-width="0.9"/>
<line x1="118.75" y1="521.20" x2="118.75" y2="522.30" stroke="#222" stroke-width="0.85"/>
<line x1="117.35" y1="521.20" x2="120.15" y2="521.20" stroke="#222" stroke-width="0.9"/>
<rect x="116.60" y="522.60" width="4.30" height="16.80" fill="#a8394a" stroke="#8e1f35" stroke-width="0.6"/>
<line x1="125.85" y1="521.80" x2="125.85" y2="523.20" stroke="#222" stroke-width="0.85"/>
<line x1="124.45" y1="521.80" x2="127.25" y2="521.80" stroke="#222" stroke-width="0.9"/>
<rect x="123.70" y="523.50" width="4.30" height="15.90" fill="#b5b792" stroke="#9c9e78" stroke-width="0.6"/>
<line x1="122.30" y1="539.40" x2="122.30" y2="542.00" stroke="#1c1c1c" stroke-width="0.9"/>
<line x1="137.90" y1="496.70" x2="137.90" y2="499.40" stroke="#222" stroke-width="0.85"/>
<line x1="136.50" y1="496.70" x2="139.30" y2="496.70" stroke="#222" stroke-width="0.9"/>
<rect x="135.90" y="499.70" width="4.00" height="39.70" fill="#a8394a" stroke="#8e1f35" stroke-width="0.6"/>
<line x1="144.80" y1="516.60" x2="144.80" y2="518.20" stroke="#222" stroke-width="0.85"/>
<line x1="143.40" y1="516.60" x2="146.20" y2="516.60" stroke="#222" stroke-width="0.9"/>
<rect x="142.50" y="518.50" width="4.60" height="20.90" fill="#b5b792" stroke="#9c9e78" stroke-width="0.6"/>
<line x1="141.20" y1="539.40" x2="141.20" y2="542.00" stroke="#1c1c1c" stroke-width="0.9"/>
<line x1="137.20" y1="492.70" x2="146.30" y2="492.70" stroke="#3a3a3a" stroke-width="1.0"/>
<line x1="137.20" y1="490.70" x2="137.20" y2="494.70" stroke="#3a3a3a" stroke-width="1.0"/>
<line x1="146.30" y1="490.70" x2="146.30" y2="494.70" stroke="#3a3a3a" stroke-width="1.0"/>
<text x="141.55" y="489.20" font-size="5.4" text-anchor="middle" fill="#4a4a4a" textLength="21.50" lengthAdjust="spacingAndGlyphs" stroke="#4a4a4a" stroke-width="0.05">p=0.0006</text>
<text x="49.20" y="548.00" font-size="6.6" text-anchor="end" fill="#262626" transform="rotate(-45 49.20 548.00)" textLength="20.43" lengthAdjust="spacingAndGlyphs" stroke="#262626" stroke-width="0.04">Vehicle</text>
<text x="68.30" y="548.00" font-size="6.6" text-anchor="end" fill="#262626" transform="rotate(-45 68.30 548.00)" textLength="29.45" lengthAdjust="spacingAndGlyphs" stroke="#262626" stroke-width="0.04">AraC 1 µM</text>
<text x="87.30" y="548.00" font-size="6.6" text-anchor="end" fill="#262626" transform="rotate(-45 87.30 548.00)" textLength="29.45" lengthAdjust="spacingAndGlyphs" stroke="#262626" stroke-width="0.04">AraC 2 µM</text>
<text x="106.80" y="548.00" font-size="6.6" text-anchor="end" fill="#262626" transform="rotate(-45 106.80 548.00)" textLength="29.92" lengthAdjust="spacingAndGlyphs" stroke="#262626" stroke-width="0.04">DNR 30 nM</text>
<text x="125.80" y="548.00" font-size="6.6" text-anchor="end" fill="#262626" transform="rotate(-45 125.80 548.00)" textLength="29.92" lengthAdjust="spacingAndGlyphs" stroke="#262626" stroke-width="0.04">DNR 60 nM</text>
<text x="144.60" y="548.00" font-size="6.6" text-anchor="end" fill="#262626" transform="rotate(-45 144.60 548.00)" textLength="40.85" lengthAdjust="spacingAndGlyphs" stroke="#262626" stroke-width="0.04">Dasatinib 2 nM</text>
<rect x="51.00" y="465.80" width="6.30" height="4.80" fill="#a8394a" stroke="#8e1f35" stroke-width="0.6"/>
<text x="59.90" y="470.20" font-size="5.4" text-anchor="start" fill="#3a3a3a" textLength="5.80" lengthAdjust="spacingAndGlyphs" stroke="#3a3a3a" stroke-width="0.05">EV</text>
<rect x="51.00" y="474.90" width="6.30" height="5.00" fill="#b5b792" stroke="#9c9e78" stroke-width="0.6"/>
<text x="59.90" y="479.40" font-size="5.4" text-anchor="start" fill="#3a3a3a" textLength="26.00" lengthAdjust="spacingAndGlyphs" stroke="#3a3a3a" stroke-width="0.05">NCAM_140</text>
<text x="171.40" y="498.50" font-size="9.2" text-anchor="middle" fill="#161616" transform="rotate(-90 171.40 498.50)" textLength="58.20" lengthAdjust="spacingAndGlyphs" stroke="#161616" stroke-width="0.2">MTT absorbance</text>
<line x1="192.00" y1="455.70" x2="192.00" y2="540.25" stroke="#1c1c1c" stroke-width="1.3"/>
<line x1="189.20" y1="463.50" x2="192.00" y2="463.50" stroke="#1c1c1c" stroke-width="0.9"/>
<text x="186.40" y="465.80" font-size="6.6" text-anchor="end" fill="#222" textLength="9.69" lengthAdjust="spacingAndGlyphs" stroke="#222" stroke-width="0.08">100</text>
<line x1="189.20" y1="501.10" x2="192.00" y2="501.10" stroke="#1c1c1c" stroke-width="0.9"/>
<text x="186.40" y="503.40" font-size="6.6" text-anchor="end" fill="#222" textLength="6.46" lengthAdjust="spacingAndGlyphs" stroke="#222" stroke-width="0.08">50</text>
<line x1="189.20" y1="539.60" x2="192.00" y2="539.60" stroke="#1c1c1c" stroke-width="0.9"/>
<text x="186.40" y="541.90" font-size="6.6" text-anchor="end" fill="#222" textLength="3.23" lengthAdjust="spacingAndGlyphs" stroke="#222" stroke-width="0.08">0</text>
<line x1="191.35" y1="539.60" x2="320.20" y2="539.60" stroke="#1c1c1c" stroke-width="1.3"/>
<line x1="192.60" y1="501.10" x2="272.80" y2="501.10" stroke="#333" stroke-width="0.7" stroke-dasharray="1,1.1"/>
<line x1="263.30" y1="504.50" x2="263.30" y2="539.00" stroke="#333" stroke-width="0.7" stroke-dasharray="1,1.1"/>
<line x1="273.40" y1="501.10" x2="273.40" y2="539.00" stroke="#333" stroke-width="0.7" stroke-dasharray="1,1.1"/>
<path d="M205.80,463.50 C208.50,463.83 216.63,464.08 222.00,465.50 C227.37,466.92 232.53,467.53 238.00,472.00 C243.47,476.47 250.58,486.85 254.80,492.30 C259.02,497.75 260.47,499.97 263.30,504.70 C266.13,509.43 268.48,515.80 271.80,520.70 C275.12,525.60 279.88,530.95 283.20,534.10 C286.52,537.25 290.28,538.68 291.70,539.60" stroke="#b0283c" stroke-width="1.2" fill="none" stroke-linecap="round"/>
<path d="M205.80,463.50 C209.00,463.62 219.30,463.78 225.00,464.20 C230.70,464.62 235.83,465.12 240.00,466.00 C244.17,466.88 247.00,467.75 250.00,469.50 C253.00,471.25 255.50,473.50 258.00,476.50 C260.50,479.50 262.65,483.40 265.00,487.50 C267.35,491.60 269.93,496.52 272.10,501.10 C274.27,505.68 276.15,510.77 278.00,515.00 C279.85,519.23 281.53,523.17 283.20,526.50 C284.87,529.83 286.58,532.82 288.00,535.00 C289.42,537.18 291.08,538.83 291.70,539.60" stroke="#bcbb93" stroke-width="1.2" fill="none" stroke-linecap="round"/>
<rect x="204.15" y="461.85" width="3.30" height="3.30" fill="#b0283c"/>
<rect x="253.15" y="490.65" width="3.30" height="3.30" fill="#b0283c"/>
<rect x="261.65" y="503.05" width="3.30" height="3.30" fill="#b0283c"/>
<rect x="270.15" y="519.05" width="3.30" height="3.30" fill="#b0283c"/>
<rect x="281.55" y="532.45" width="3.30" height="3.30" fill="#b0283c"/>
<rect x="290.05" y="537.95" width="3.30" height="3.30" fill="#b0283c"/>
<circle cx="254.80" cy="477.90" r="1.7" fill="#bcbb93"/>
<circle cx="263.30" cy="478.20" r="1.7" fill="#bcbb93"/>
<circle cx="272.10" cy="501.10" r="1.7" fill="#bcbb93"/>
<circle cx="283.20" cy="528.30" r="1.7" fill="#bcbb93"/>
<text x="247.70" y="507.60" font-size="5.0" text-anchor="middle" fill="#444" textLength="18.50" lengthAdjust="spacingAndGlyphs" stroke="#444" stroke-width="0.2">0.97 nM</text>
<text x="284.50" y="507.60" font-size="5.0" text-anchor="middle" fill="#444" textLength="15.70" lengthAdjust="spacingAndGlyphs" stroke="#444" stroke-width="0.2">2.2 nM</text>
<text x="204.20" y="284.60" font-size="11.4" text-anchor="start" fill="#111" textLength="6.00" lengthAdjust="spacingAndGlyphs" stroke="#111" stroke-width="0.3">E</text>
<rect x="233.6" y="299.7" width="90.4" height="89.2" fill="none" stroke="#1c1c1c" stroke-width="1.1"/>
<line x1="230.60" y1="300.00" x2="233.60" y2="300.00" stroke="#1c1c1c" stroke-width="0.9"/>
<text x="227.90" y="302.30" font-size="6.4" text-anchor="end" fill="#222" textLength="9.18" lengthAdjust="spacingAndGlyphs" stroke="#222" stroke-width="0.08">150</text>
<line x1="230.60" y1="329.50" x2="233.60" y2="329.50" stroke="#1c1c1c" stroke-width="0.9"/>
<text x="227.90" y="331.80" font-size="6.4" text-anchor="end" fill="#222" textLength="9.18" lengthAdjust="spacingAndGlyphs" stroke="#222" stroke-width="0.08">100</text>
<line x1="230.60" y1="359.50" x2="233.60" y2="359.50" stroke="#1c1c1c" stroke-width="0.9"/>
<text x="227.90" y="361.80" font-size="6.4" text-anchor="end" fill="#222" textLength="6.12" lengthAdjust="spacingAndGlyphs" stroke="#222" stroke-width="0.08">50</text>
<line x1="230.60" y1="388.90" x2="233.60" y2="388.90" stroke="#1c1c1c" stroke-width="0.9"/>
<text x="227.90" y="391.20" font-size="6.4" text-anchor="end" fill="#222" textLength="3.06" lengthAdjust="spacingAndGlyphs" stroke="#222" stroke-width="0.08">0</text>
<line x1="231.70" y1="382.97" x2="233.20" y2="382.97" stroke="#1c1c1c" stroke-width="0.8"/>
<line x1="231.70" y1="377.05" x2="233.20" y2="377.05" stroke="#1c1c1c" stroke-width="0.8"/>
<line x1="231.70" y1="371.12" x2="233.20" y2="371.12" stroke="#1c1c1c" stroke-width="0.8"/>
<line x1="231.70" y1="365.19" x2="233.20" y2="365.19" stroke="#1c1c1c" stroke-width="0.8"/>
<line x1="231.70" y1="353.34" x2="233.20" y2="353.34" stroke="#1c1c1c" stroke-width="0.8"/>
<line x1="231.70" y1="347.41" x2="233.20" y2="347.41" stroke="#1c1c1c" stroke-width="0.8"/>
<line x1="231.70" y1="341.49" x2="233.20" y2="341.49" stroke="#1c1c1c" stroke-width="0.8"/>
<line x1="231.70" y1="335.56" x2="233.20" y2="335.56" stroke="#1c1c1c" stroke-width="0.8"/>
<line x1="231.70" y1="323.71" x2="233.20" y2="323.71" stroke="#1c1c1c" stroke-width="0.8"/>
<line x1="231.70" y1="317.78" x2="233.20" y2="317.78" stroke="#1c1c1c" stroke-width="0.8"/>
<line x1="231.70" y1="311.85" x2="233.20" y2="311.85" stroke="#1c1c1c" stroke-width="0.8"/>
<line x1="231.70" y1="305.93" x2="233.20" y2="305.93" stroke="#1c1c1c" stroke-width="0.8"/>
<line x1="233.40" y1="388.90" x2="233.40" y2="391.60" stroke="#1c1c1c" stroke-width="0.9"/>
<text x="233.60" y="401.30" font-size="6.0" text-anchor="middle" fill="#222" textLength="5.87" lengthAdjust="spacingAndGlyphs" stroke="#222" stroke-width="0.2">10</text>
<text x="237.10" y="398.00" font-size="4.0" text-anchor="start" fill="#222" textLength="2.00" lengthAdjust="spacingAndGlyphs" stroke="#222" stroke-width="0.2">0</text>
<line x1="238.40" y1="388.90" x2="238.40" y2="390.50" stroke="#1c1c1c" stroke-width="0.6"/>
<line x1="241.32" y1="388.90" x2="241.32" y2="390.50" stroke="#1c1c1c" stroke-width="0.6"/>
<line x1="243.39" y1="388.90" x2="243.39" y2="390.50" stroke="#1c1c1c" stroke-width="0.6"/>
<line x1="245.00" y1="388.90" x2="245.00" y2="390.50" stroke="#1c1c1c" stroke-width="0.6"/>
<line x1="246.32" y1="388.90" x2="246.32" y2="390.50" stroke="#1c1c1c" stroke-width="0.6"/>
<line x1="247.43" y1="388.90" x2="247.43" y2="390.50" stroke="#1c1c1c" stroke-width="0.6"/>
<line x1="248.39" y1="388.90" x2="248.39" y2="390.50" stroke="#1c1c1c" stroke-width="0.6"/>
<line x1="249.24" y1="388.90" x2="249.24" y2="390.50" stroke="#1c1c1c" stroke-width="0.6"/>
<line x1="250.00" y1="388.90" x2="250.00" y2="391.60" stroke="#1c1c1c" stroke-width="0.9"/>
<text x="250.20" y="401.30" font-size="6.0" text-anchor="middle" fill="#222" textLength="5.87" lengthAdjust="spacingAndGlyphs" stroke="#222" stroke-width="0.2">10</text>
<text x="253.70" y="398.00" font-size="4.0" text-anchor="start" fill="#222" textLength="2.00" lengthAdjust="spacingAndGlyphs" stroke="#222" stroke-width="0.2">1</text>
<line x1="255.00" y1="388.90" x2="255.00" y2="390.50" stroke="#1c1c1c" stroke-width="0.6"/>
<line x1="257.92" y1="388.90" x2="257.92" y2="390.50" stroke="#1c1c1c" stroke-width="0.6"/>
<line x1="259.99" y1="388.90" x2="259.99" y2="390.50" stroke="#1c1c1c" stroke-width="0.6"/>
<line x1="261.60" y1="388.90" x2="261.60" y2="390.50" stroke="#1c1c1c" stroke-width="0.6"/>
<line x1="262.92" y1="388.90" x2="262.92" y2="390.50" stroke="#1c1c1c" stroke-width="0.6"/>
<line x1="264.03" y1="388.90" x2="264.03" y2="390.50" stroke="#1c1c1c" stroke-width="0.6"/>
<line x1="264.99" y1="388.90" x2="264.99" y2="390.50" stroke="#1c1c1c" stroke-width="0.6"/>
<line x1="265.84" y1="388.90" x2="265.84" y2="390.50" stroke="#1c1c1c" stroke-width="0.6"/>
<line x1="266.50" y1="388.90" x2="266.50" y2="391.60" stroke="#1c1c1c" stroke-width="0.9"/>
<text x="266.70" y="401.30" font-size="6.0" text-anchor="middle" fill="#222" textLength="5.87" lengthAdjust="spacingAndGlyphs" stroke="#222" stroke-width="0.2">10</text>
<text x="270.20" y="398.00" font-size="4.0" text-anchor="start" fill="#222" textLength="2.00" lengthAdjust="spacingAndGlyphs" stroke="#222" stroke-width="0.2">2</text>
<line x1="271.50" y1="388.90" x2="271.50" y2="390.50" stroke="#1c1c1c" stroke-width="0.6"/>
<line x1="274.42" y1="388.90" x2="274.42" y2="390.50" stroke="#1c1c1c" stroke-width="0.6"/>
<line x1="276.49" y1="388.90" x2="276.49" y2="390.50" stroke="#1c1c1c" stroke-width="0.6"/>
<line x1="278.10" y1="388.90" x2="278.10" y2="390.50" stroke="#1c1c1c" stroke-width="0.6"/>
<line x1="279.42" y1="388.90" x2="279.42" y2="390.50" stroke="#1c1c1c" stroke-width="0.6"/>
<line x1="280.53" y1="388.90" x2="280.53" y2="390.50" stroke="#1c1c1c" stroke-width="0.6"/>
<line x1="281.49" y1="388.90" x2="281.49" y2="390.50" stroke="#1c1c1c" stroke-width="0.6"/>
<line x1="282.34" y1="388.90" x2="282.34" y2="390.50" stroke="#1c1c1c" stroke-width="0.6"/>
<line x1="283.00" y1="388.90" x2="283.00" y2="391.60" stroke="#1c1c1c" stroke-width="0.9"/>
<text x="283.20" y="401.30" font-size="6.0" text-anchor="middle" fill="#222" textLength="5.87" lengthAdjust="spacingAndGlyphs" stroke="#222" stroke-width="0.2">10</text>
<text x="286.70" y="398.00" font-size="4.0" text-anchor="start" fill="#222" textLength="2.00" lengthAdjust="spacingAndGlyphs" stroke="#222" stroke-width="0.2">3</text>
<line x1="288.00" y1="388.90" x2="288.00" y2="390.50" stroke="#1c1c1c" stroke-width="0.6"/>
<line x1="290.92" y1="388.90" x2="290.92" y2="390.50" stroke="#1c1c1c" stroke-width="0.6"/>
<line x1="292.99" y1="388.90" x2="292.99" y2="390.50" stroke="#1c1c1c" stroke-width="0.6"/>
<line x1="294.60" y1="388.90" x2="294.60" y2="390.50" stroke="#1c1c1c" stroke-width="0.6"/>
<line x1="295.92" y1="388.90" x2="295.92" y2="390.50" stroke="#1c1c1c" stroke-width="0.6"/>
<line x1="297.03" y1="388.90" x2="297.03" y2="390.50" stroke="#1c1c1c" stroke-width="0.6"/>
<line x1="297.99" y1="388.90" x2="297.99" y2="390.50" stroke="#1c1c1c" stroke-width="0.6"/>
<line x1="298.84" y1="388.90" x2="298.84" y2="390.50" stroke="#1c1c1c" stroke-width="0.6"/>
<line x1="299.50" y1="388.90" x2="299.50" y2="391.60" stroke="#1c1c1c" stroke-width="0.9"/>
<text x="299.70" y="401.30" font-size="6.0" text-anchor="middle" fill="#222" textLength="5.87" lengthAdjust="spacingAndGlyphs" stroke="#222" stroke-width="0.2">10</text>
<text x="303.20" y="398.00" font-size="4.0" text-anchor="start" fill="#222" textLength="2.00" lengthAdjust="spacingAndGlyphs" stroke="#222" stroke-width="0.2">4</text>
<line x1="304.50" y1="388.90" x2="304.50" y2="390.50" stroke="#1c1c1c" stroke-width="0.6"/>
<line x1="307.42" y1="388.90" x2="307.42" y2="390.50" stroke="#1c1c1c" stroke-width="0.6"/>
<line x1="309.49" y1="388.90" x2="309.49" y2="390.50" stroke="#1c1c1c" stroke-width="0.6"/>
<line x1="311.10" y1="388.90" x2="311.10" y2="390.50" stroke="#1c1c1c" stroke-width="0.6"/>
<line x1="312.42" y1="388.90" x2="312.42" y2="390.50" stroke="#1c1c1c" stroke-width="0.6"/>
<line x1="313.53" y1="388.90" x2="313.53" y2="390.50" stroke="#1c1c1c" stroke-width="0.6"/>
<line x1="314.49" y1="388.90" x2="314.49" y2="390.50" stroke="#1c1c1c" stroke-width="0.6"/>
<line x1="315.34" y1="388.90" x2="315.34" y2="390.50" stroke="#1c1c1c" stroke-width="0.6"/>
<line x1="316.25" y1="388.90" x2="316.25" y2="391.60" stroke="#1c1c1c" stroke-width="0.9"/>
<text x="316.45" y="401.30" font-size="6.0" text-anchor="middle" fill="#222" textLength="5.87" lengthAdjust="spacingAndGlyphs" stroke="#222" stroke-width="0.2">10</text>
<text x="319.95" y="398.00" font-size="4.0" text-anchor="start" fill="#222" textLength="2.00" lengthAdjust="spacingAndGlyphs" stroke="#222" stroke-width="0.2">5</text>
<text x="212.30" y="344.30" font-size="9.4" text-anchor="middle" fill="#161616" transform="rotate(-90 212.30 344.30)" textLength="22.50" lengthAdjust="spacingAndGlyphs" stroke="#161616" stroke-width="0.2">Count</text>
<text x="278.75" y="412.60" font-size="9.4" text-anchor="middle" fill="#161616" textLength="25.00" lengthAdjust="spacingAndGlyphs" stroke="#161616" stroke-width="0.2">CD11b</text>
<line x1="234.20" y1="388.40" x2="283.00" y2="388.40" stroke="#bdbb98" stroke-width="0.9"/>
<path d="M271.14,388.69 L275.71,386.10 L280.29,383.05 L282.57,377.71 L284.86,370.10 L287.14,364.00 L289.43,354.86 L290.95,357.90 L292.48,351.81 L294.76,349.52 L297.81,347.24 L299.33,339.62 L300.86,338.10 L302.84,344.95 L304.36,333.52 L305.89,330.48 L307.41,334.29 L308.48,330.48 L310.46,335.81 L312.29,345.71 L313.81,357.90 L315.33,367.05 L317.62,379.24 L319.90,386.86 L322.19,389.30" stroke="#aeac80" stroke-width="1.0" fill="none" stroke-linejoin="round"/>
<path d="M283.33,389.14 L284.86,385.33 L287.14,380.76 L289.43,378.48 L291.71,374.67 L294.00,369.33 L296.29,362.48 L297.81,356.38 L299.33,348.76 L300.86,338.10 L302.38,327.43 L303.90,317.52 L305.43,311.43 L306.95,309.90 L308.48,311.43 L310.00,318.29 L311.52,327.43 L313.05,339.62 L314.57,353.33 L316.10,364.00 L317.62,373.14 L319.14,382.29 L320.67,387.62 L322.19,389.30" stroke="#b0283c" stroke-width="1.1" fill="none" stroke-linejoin="round"/>
<rect x="238.75" y="303.75" width="8.75" height="4.25" fill="#a8394a" stroke="#8e1f35" stroke-width="0.6"/>
<text x="251.25" y="308.00" font-size="4.8" text-anchor="start" fill="#3a3a3a" textLength="5.20" lengthAdjust="spacingAndGlyphs" stroke="#3a3a3a" stroke-width="0.05">EV</text>
<rect x="238.75" y="312.00" width="8.75" height="3.75" fill="#b5b792" stroke="#9c9e78" stroke-width="0.6"/>
<text x="251.25" y="316.20" font-size="4.8" text-anchor="start" fill="#3a3a3a" textLength="23.70" lengthAdjust="spacingAndGlyphs" stroke="#3a3a3a" stroke-width="0.05">NCAM_140</text>
<text x="354.10" y="291.00" font-size="6.2" text-anchor="start" fill="#1a1a1a" textLength="17.20" lengthAdjust="spacingAndGlyphs" stroke="#1a1a1a" stroke-width="0.2">- ATRA</text>
<text x="425.80" y="291.00" font-size="6.2" text-anchor="start" fill="#1a1a1a" textLength="17.20" lengthAdjust="spacingAndGlyphs" stroke="#1a1a1a" stroke-width="0.2">+ATRA</text>
<text x="395.20" y="346.00" font-size="6.2" text-anchor="start" fill="#1a1a1a" textLength="6.60" lengthAdjust="spacingAndGlyphs" stroke="#1a1a1a" stroke-width="0.2">EV</text>
<text x="383.30" y="404.30" font-size="6.2" text-anchor="start" fill="#1a1a1a" textLength="30.40" lengthAdjust="spacingAndGlyphs" stroke="#1a1a1a" stroke-width="0.2">NCAM_140</text>
<defs><filter id="soft" x="-5%" y="-5%" width="110%" height="110%"><feGaussianBlur stdDeviation="0.35"/></filter></defs>
<rect x="333.2" y="293.8" width="58.40" height="43.50" fill="#dcdce6"/>
<clipPath id="c333293"><rect x="333.2" y="293.8" width="58.40" height="43.50"/></clipPath>
<g clip-path="url(#c333293)"><g filter="url(#soft)">
<circle cx="333.79" cy="303.33" r="1.9" fill="#8a5893" fill-opacity="1.0"/>
<circle cx="339.15" cy="302.73" r="1.9" fill="#8a5893" fill-opacity="1.0"/>
<circle cx="340.94" cy="304.52" r="1.9" fill="#8a5893" fill-opacity="1.0"/>
<circle cx="339.75" cy="306.90" r="1.9" fill="#8a5893" fill-opacity="1.0"/>
<circle cx="343.33" cy="306.31" r="1.9" fill="#8a5893" fill-opacity="1.0"/>
<circle cx="345.12" cy="306.31" r="1.9" fill="#8a5893" fill-opacity="1.0"/>
<circle cx="341.54" cy="308.69" r="1.9" fill="#8a5893" fill-opacity="1.0"/>
<circle cx="343.92" cy="309.65" r="1.9" fill="#8a5893" fill-opacity="1.0"/>
<circle cx="340.35" cy="311.08" r="1.9" fill="#8a5893" fill-opacity="1.0"/>
<circle cx="339.15" cy="315.85" r="1.8" fill="#d2a8c7" fill-opacity="1.0"/>
<circle cx="339.15" cy="327.17" r="1.0" fill="#d8b8d0" fill-opacity="1.0"/>
<circle cx="337.96" cy="333.49" r="1.9" fill="#8a5893" fill-opacity="1.0"/>
<circle cx="341.54" cy="335.16" r="1.9" fill="#8a5893" fill-opacity="1.0"/>
<circle cx="359.80" cy="317.80" r="2.0" fill="#8a5893" fill-opacity="1.0"/>
<circle cx="357.80" cy="320.00" r="2.0" fill="#8a5893" fill-opacity="1.0"/>
<circle cx="361.50" cy="320.50" r="2.0" fill="#8a5893" fill-opacity="1.0"/>
<circle cx="357.21" cy="322.80" r="2.0" fill="#8a5893" fill-opacity="1.0"/>
<circle cx="359.80" cy="322.80" r="2.0" fill="#8a5893" fill-opacity="1.0"/>
<circle cx="362.30" cy="323.41" r="2.0" fill="#8a5893" fill-opacity="1.0"/>
<circle cx="358.80" cy="325.50" r="2.0" fill="#8a5893" fill-opacity="1.0"/>
<circle cx="361.50" cy="326.20" r="2.0" fill="#8a5893" fill-opacity="1.0"/>
<circle cx="365.00" cy="329.50" r="2.0" fill="#8a5893" fill-opacity="1.0"/>
<circle cx="367.50" cy="328.50" r="2.0" fill="#8a5893" fill-opacity="1.0"/>
<circle cx="366.80" cy="331.50" r="2.0" fill="#8a5893" fill-opacity="1.0"/>
<circle cx="369.50" cy="330.20" r="2.0" fill="#8a5893" fill-opacity="1.0"/>
<circle cx="371.50" cy="331.50" r="2.0" fill="#8a5893" fill-opacity="1.0"/>
<circle cx="369.50" cy="332.60" r="2.0" fill="#8a5893" fill-opacity="1.0"/>
<circle cx="373.80" cy="332.21" r="2.0" fill="#8a5893" fill-opacity="1.0"/>
<circle cx="376.00" cy="332.50" r="2.0" fill="#8a5893" fill-opacity="1.0"/>
<circle cx="372.00" cy="333.50" r="2.0" fill="#8a5893" fill-opacity="1.0"/>
<circle cx="366.01" cy="333.19" r="2.0" fill="#8a5893" fill-opacity="1.0"/>
<circle cx="370.00" cy="334.20" r="2.0" fill="#8a5893" fill-opacity="1.0"/>
<circle cx="374.20" cy="334.60" r="2.0" fill="#8a5893" fill-opacity="1.0"/>
<circle cx="364.30" cy="331.39" r="2.0" fill="#8a5893" fill-opacity="1.0"/>
<circle cx="377.80" cy="331.00" r="2.0" fill="#8a5893" fill-opacity="1.0"/>
<circle cx="368.00" cy="326.99" r="2.0" fill="#8a5893" fill-opacity="1.0"/>
</g>
<rect x="367.5" y="293.8" width="24.10" height="17.50" fill="#e4e0ec"/>
<clipPath id="c333293i"><rect x="367.5" y="293.8" width="24.10" height="17.50"/></clipPath>
<g clip-path="url(#c333293i)"><g filter="url(#soft)">
<circle cx="374.60" cy="300.00" r="6.3" fill="#945c96"/>
<circle cx="386.60" cy="302.60" r="5.9" fill="#9c6aa0"/>
<circle cx="374.30" cy="310.90" r="5.2" fill="#945c96"/>
<circle cx="385.30" cy="311.90" r="4.8" fill="#9a639c"/>
</g></g>
<rect x="368.05" y="294.35" width="23.00" height="16.40" fill="none" stroke="#262626" stroke-width="1.1"/>
</g>
<rect x="405.0" y="293.8" width="58.60" height="44.10" fill="#e8e0e9"/>
<clipPath id="c405293"><rect x="405.0" y="293.8" width="58.60" height="44.10"/></clipPath>
<g clip-path="url(#c405293)"><g filter="url(#soft)">
<circle cx="406.38" cy="296.77" r="1.75" fill="#94639e" fill-opacity="1.0"/>
<circle cx="405.79" cy="300.94" r="1.75" fill="#94639e" fill-opacity="1.0"/>
<circle cx="409.96" cy="300.94" r="1.75" fill="#94639e" fill-opacity="1.0"/>
<circle cx="412.94" cy="300.35" r="1.75" fill="#94639e" fill-opacity="1.0"/>
<circle cx="415.33" cy="297.96" r="1.75" fill="#94639e" fill-opacity="1.0"/>
<circle cx="419.50" cy="297.37" r="1.75" fill="#94639e" fill-opacity="1.0"/>
<circle cx="421.88" cy="296.77" r="1.75" fill="#94639e" fill-opacity="1.0"/>
<circle cx="421.88" cy="299.75" r="1.75" fill="#94639e" fill-opacity="1.0"/>
<circle cx="429.04" cy="294.98" r="1.75" fill="#94639e" fill-opacity="1.0"/>
<circle cx="435.60" cy="297.37" r="1.75" fill="#94639e" fill-opacity="1.0"/>
<circle cx="433.81" cy="301.54" r="1.75" fill="#94639e" fill-opacity="1.0"/>
<circle cx="436.79" cy="302.73" r="1.75" fill="#94639e" fill-opacity="1.0"/>
<circle cx="427.85" cy="303.33" r="1.75" fill="#94639e" fill-opacity="1.0"/>
<circle cx="428.44" cy="306.90" r="1.75" fill="#94639e" fill-opacity="1.0"/>
<circle cx="418.31" cy="304.52" r="1.75" fill="#94639e" fill-opacity="1.0"/>
<circle cx="416.52" cy="307.50" r="1.75" fill="#94639e" fill-opacity="1.0"/>
<circle cx="421.29" cy="308.69" r="1.75" fill="#94639e" fill-opacity="1.0"/>
<circle cx="423.08" cy="309.88" r="1.75" fill="#94639e" fill-opacity="1.0"/>
<circle cx="407.58" cy="307.50" r="1.75" fill="#94639e" fill-opacity="1.0"/>
<circle cx="406.38" cy="309.88" r="1.75" fill="#94639e" fill-opacity="1.0"/>
<circle cx="412.35" cy="311.67" r="1.75" fill="#94639e" fill-opacity="1.0"/>
<circle cx="432.62" cy="311.67" r="1.75" fill="#94639e" fill-opacity="1.0"/>
<circle cx="431.42" cy="313.46" r="1.75" fill="#94639e" fill-opacity="1.0"/>
<circle cx="436.79" cy="312.87" r="1.75" fill="#94639e" fill-opacity="1.0"/>
<circle cx="439.77" cy="312.87" r="1.75" fill="#94639e" fill-opacity="1.0"/>
<circle cx="421.88" cy="314.65" r="1.75" fill="#94639e" fill-opacity="1.0"/>
<circle cx="423.67" cy="316.44" r="1.75" fill="#94639e" fill-opacity="1.0"/>
<circle cx="426.06" cy="315.25" r="1.75" fill="#94639e" fill-opacity="1.0"/>
<circle cx="407.58" cy="317.04" r="1.75" fill="#94639e" fill-opacity="1.0"/>
<circle cx="409.96" cy="318.23" r="1.75" fill="#94639e" fill-opacity="1.0"/>
<circle cx="438.58" cy="320.02" r="1.75" fill="#94639e" fill-opacity="1.0"/>
<circle cx="439.77" cy="322.40" r="1.75" fill="#94639e" fill-opacity="1.0"/>
<circle cx="429.04" cy="320.62" r="1.75" fill="#94639e" fill-opacity="1.0"/>
<circle cx="426.65" cy="323.00" r="1.75" fill="#94639e" fill-opacity="1.0"/>
<circle cx="424.87" cy="324.19" r="1.75" fill="#94639e" fill-opacity="1.0"/>
<circle cx="419.50" cy="323.00" r="1.75" fill="#94639e" fill-opacity="1.0"/>
<circle cx="418.31" cy="322.40" r="1.75" fill="#94639e" fill-opacity="1.0"/>
<circle cx="442.15" cy="324.79" r="1.75" fill="#94639e" fill-opacity="1.0"/>
<circle cx="444.54" cy="325.98" r="1.75" fill="#94639e" fill-opacity="1.0"/>
<circle cx="449.31" cy="324.79" r="1.75" fill="#94639e" fill-opacity="1.0"/>
<circle cx="454.08" cy="313.46" r="1.75" fill="#94639e" fill-opacity="1.0"/>
<circle cx="456.46" cy="315.85" r="1.75" fill="#94639e" fill-opacity="1.0"/>
<circle cx="458.85" cy="315.25" r="1.75" fill="#94639e" fill-opacity="1.0"/>
<circle cx="460.04" cy="318.83" r="1.75" fill="#94639e" fill-opacity="1.0"/>
<circle cx="456.46" cy="317.63" r="1.75" fill="#94639e" fill-opacity="1.0"/>
<circle cx="406.98" cy="328.37" r="1.75" fill="#94639e" fill-opacity="1.0"/>
<circle cx="411.15" cy="330.15" r="1.75" fill="#94639e" fill-opacity="1.0"/>
<circle cx="408.77" cy="331.35" r="1.75" fill="#94639e" fill-opacity="1.0"/>
<circle cx="418.31" cy="330.75" r="1.75" fill="#94639e" fill-opacity="1.0"/>
<circle cx="427.85" cy="329.56" r="1.75" fill="#94639e" fill-opacity="1.0"/>
<circle cx="431.42" cy="331.35" r="1.75" fill="#94639e" fill-opacity="1.0"/>
<circle cx="436.19" cy="333.14" r="1.75" fill="#94639e" fill-opacity="1.0"/>
<circle cx="415.92" cy="334.33" r="1.75" fill="#94639e" fill-opacity="1.0"/>
<circle cx="419.50" cy="336.12" r="1.75" fill="#94639e" fill-opacity="1.0"/>
<circle cx="425.46" cy="336.71" r="1.75" fill="#94639e" fill-opacity="1.0"/>
<circle cx="436.19" cy="336.12" r="1.75" fill="#94639e" fill-opacity="1.0"/>
<circle cx="438.58" cy="331.35" r="1.75" fill="#94639e" fill-opacity="1.0"/>
<circle cx="458.25" cy="328.96" r="1.75" fill="#94639e" fill-opacity="1.0"/>
<circle cx="458.85" cy="331.35" r="1.75" fill="#94639e" fill-opacity="1.0"/>
<circle cx="461.23" cy="325.98" r="1.75" fill="#94639e" fill-opacity="1.0"/>
<circle cx="433.81" cy="317.04" r="1.75" fill="#94639e" fill-opacity="1.0"/>
<circle cx="413.54" cy="303.33" r="1.75" fill="#94639e" fill-opacity="1.0"/>
<circle cx="411.15" cy="296.77" r="1.75" fill="#94639e" fill-opacity="1.0"/>
<circle cx="443.35" cy="315.85" r="1.75" fill="#94639e" fill-opacity="1.0"/>
<circle cx="451.69" cy="320.62" r="1.75" fill="#94639e" fill-opacity="1.0"/>
<circle cx="446.92" cy="312.27" r="1.75" fill="#94639e" fill-opacity="1.0"/>
</g>
<rect x="439.8" y="293.8" width="23.80" height="17.90" fill="#e2dae6"/>
<clipPath id="c405293i"><rect x="439.8" y="293.8" width="23.80" height="17.90"/></clipPath>
<g clip-path="url(#c405293i)"><g filter="url(#soft)">
<circle cx="446.30" cy="300.90" r="4.4" fill="#ad82b1"/>
<circle cx="455.30" cy="303.90" r="4.7" fill="#b088b3"/>
<circle cx="445.00" cy="299.50" r="1.5" fill="#9c6aa3"/>
<circle cx="448.00" cy="302.50" r="1.4" fill="#9c6aa3"/>
<circle cx="454.00" cy="302.00" r="1.5" fill="#9c6aa3"/>
<circle cx="457.00" cy="305.50" r="1.4" fill="#9c6aa3"/>
</g></g>
<rect x="440.35" y="294.35" width="22.70" height="16.80" fill="none" stroke="#262626" stroke-width="1.1"/>
</g>
<rect x="333.2" y="351.8" width="58.40" height="43.50" fill="#dcdce6"/>
<clipPath id="c333351"><rect x="333.2" y="351.8" width="58.40" height="43.50"/></clipPath>
<g clip-path="url(#c333351)"><g filter="url(#soft)">
<circle cx="345.12" cy="352.98" r="1.9" fill="#b98ab8" fill-opacity="1.0"/>
<circle cx="376.12" cy="352.98" r="1.9" fill="#8a5893" fill-opacity="1.0"/>
<circle cx="380.29" cy="355.37" r="1.9" fill="#8a5893" fill-opacity="1.0"/>
<circle cx="373.73" cy="357.15" r="1.9" fill="#8a5893" fill-opacity="1.0"/>
<circle cx="368.96" cy="360.13" r="1.9" fill="#8a5893" fill-opacity="1.0"/>
<circle cx="371.35" cy="359.54" r="1.9" fill="#8a5893" fill-opacity="1.0"/>
<circle cx="373.73" cy="360.73" r="1.9" fill="#8a5893" fill-opacity="1.0"/>
<circle cx="376.12" cy="358.94" r="1.9" fill="#8a5893" fill-opacity="1.0"/>
<circle cx="378.50" cy="360.13" r="1.9" fill="#8a5893" fill-opacity="1.0"/>
<circle cx="380.89" cy="360.73" r="1.9" fill="#8a5893" fill-opacity="1.0"/>
<circle cx="383.27" cy="361.92" r="1.9" fill="#8a5893" fill-opacity="1.0"/>
<circle cx="377.31" cy="363.12" r="1.9" fill="#8a5893" fill-opacity="1.0"/>
<circle cx="379.69" cy="363.71" r="1.9" fill="#8a5893" fill-opacity="1.0"/>
<circle cx="376.12" cy="364.31" r="1.9" fill="#8a5893" fill-opacity="1.0"/>
<circle cx="372.54" cy="362.52" r="1.9" fill="#8a5893" fill-opacity="1.0"/>
<circle cx="367.77" cy="362.52" r="1.9" fill="#8a5893" fill-opacity="1.0"/>
<circle cx="354.65" cy="367.29" r="1.9" fill="#8a5893" fill-opacity="1.0"/>
<circle cx="357.63" cy="369.08" r="1.9" fill="#8a5893" fill-opacity="1.0"/>
<circle cx="360.02" cy="369.08" r="1.9" fill="#8a5893" fill-opacity="1.0"/>
<circle cx="357.04" cy="371.46" r="1.9" fill="#8a5893" fill-opacity="1.0"/>
<circle cx="359.42" cy="373.85" r="1.9" fill="#8a5893" fill-opacity="1.0"/>
<circle cx="355.25" cy="374.44" r="1.9" fill="#8a5893" fill-opacity="1.0"/>
<circle cx="354.06" cy="376.83" r="1.9" fill="#8a5893" fill-opacity="1.0"/>
<circle cx="357.04" cy="376.23" r="1.9" fill="#8a5893" fill-opacity="1.0"/>
<circle cx="360.02" cy="377.42" r="1.9" fill="#8a5893" fill-opacity="1.0"/>
<circle cx="363.00" cy="378.02" r="1.9" fill="#8a5893" fill-opacity="1.0"/>
<circle cx="355.85" cy="379.81" r="1.9" fill="#8a5893" fill-opacity="1.0"/>
<circle cx="354.65" cy="382.19" r="1.9" fill="#8a5893" fill-opacity="1.0"/>
<circle cx="352.87" cy="383.98" r="1.9" fill="#8a5893" fill-opacity="1.0"/>
<circle cx="367.17" cy="372.65" r="1.9" fill="#8a5893" fill-opacity="1.0"/>
<circle cx="370.15" cy="371.46" r="1.9" fill="#8a5893" fill-opacity="1.0"/>
<circle cx="373.14" cy="370.87" r="1.9" fill="#8a5893" fill-opacity="1.0"/>
<circle cx="371.35" cy="372.65" r="1.9" fill="#8a5893" fill-opacity="1.0"/>
<circle cx="373.73" cy="373.85" r="1.9" fill="#8a5893" fill-opacity="1.0"/>
<circle cx="378.50" cy="369.67" r="1.9" fill="#8a5893" fill-opacity="1.0"/>
<circle cx="382.08" cy="373.85" r="1.9" fill="#8a5893" fill-opacity="1.0"/>
<circle cx="383.27" cy="375.63" r="1.9" fill="#8a5893" fill-opacity="1.0"/>
<circle cx="345.12" cy="389.35" r="1.9" fill="#8a5893" fill-opacity="1.0"/>
<circle cx="347.50" cy="388.75" r="1.9" fill="#8a5893" fill-opacity="1.0"/>
<circle cx="343.92" cy="391.14" r="1.9" fill="#8a5893" fill-opacity="1.0"/>
<circle cx="360.02" cy="385.77" r="3.6" fill="#e3cde1" fill-opacity="1.0"/>
</g>
<rect x="368.0" y="378.0" width="23.60" height="17.30" fill="#e6dbe6"/>
<clipPath id="c333351i"><rect x="368.0" y="378.0" width="23.60" height="17.30"/></clipPath>
<g clip-path="url(#c333351i)"><g filter="url(#soft)">
<circle cx="373.10" cy="385.00" r="5.6" fill="#a8679f"/>
<circle cx="385.00" cy="384.00" r="5.6" fill="#a8679f"/>
<circle cx="375.60" cy="394.60" r="5.0" fill="#a96aa2"/>
<circle cx="386.50" cy="394.60" r="5.0" fill="#a96aa2"/>
</g></g>
<rect x="368.55" y="378.55" width="22.50" height="16.20" fill="none" stroke="#262626" stroke-width="1.1"/>
</g>
<rect x="405.2" y="351.8" width="58.40" height="44.10" fill="#dedce6"/>
<clipPath id="c405351"><rect x="405.2" y="351.8" width="58.40" height="44.10"/></clipPath>
<g clip-path="url(#c405351)"><g filter="url(#soft)">
<circle cx="409.37" cy="356.56" r="1.9" fill="#9768a1" fill-opacity="1.0"/>
<circle cx="412.94" cy="357.75" r="1.9" fill="#9768a1" fill-opacity="1.0"/>
<circle cx="429.04" cy="359.54" r="1.3" fill="#9768a1" fill-opacity="1.0"/>
<circle cx="414.13" cy="367.29" r="1.9" fill="#9768a1" fill-opacity="1.0"/>
<circle cx="417.12" cy="369.67" r="1.9" fill="#9768a1" fill-opacity="1.0"/>
<circle cx="415.92" cy="368.48" r="1.9" fill="#9768a1" fill-opacity="1.0"/>
<circle cx="428.44" cy="368.48" r="1.9" fill="#9768a1" fill-opacity="1.0"/>
<circle cx="427.85" cy="372.06" r="1.9" fill="#9768a1" fill-opacity="1.0"/>
<circle cx="430.83" cy="373.25" r="1.9" fill="#9768a1" fill-opacity="1.0"/>
<circle cx="429.04" cy="375.04" r="1.9" fill="#9768a1" fill-opacity="1.0"/>
<circle cx="436.79" cy="371.22" r="1.9" fill="#9768a1" fill-opacity="1.0"/>
<circle cx="438.58" cy="366.10" r="1.9" fill="#9768a1" fill-opacity="1.0"/>
<circle cx="440.96" cy="366.69" r="1.9" fill="#9768a1" fill-opacity="1.0"/>
<circle cx="445.14" cy="364.31" r="1.2" fill="#9768a1" fill-opacity="1.0"/>
<circle cx="451.10" cy="352.38" r="1.1" fill="#9768a1" fill-opacity="1.0"/>
<circle cx="454.67" cy="370.87" r="1.9" fill="#9768a1" fill-opacity="1.0"/>
<circle cx="457.06" cy="370.27" r="1.9" fill="#9768a1" fill-opacity="1.0"/>
<circle cx="460.04" cy="371.46" r="1.9" fill="#9768a1" fill-opacity="1.0"/>
<circle cx="458.25" cy="372.65" r="1.9" fill="#9768a1" fill-opacity="1.0"/>
<circle cx="417.71" cy="379.21" r="1.9" fill="#9768a1" fill-opacity="1.0"/>
<circle cx="420.69" cy="389.35" r="1.9" fill="#9768a1" fill-opacity="1.0"/>
<circle cx="405.79" cy="367.88" r="1.1" fill="#9768a1" fill-opacity="1.0"/>
<circle cx="405.79" cy="394.12" r="1.1" fill="#9768a1" fill-opacity="1.0"/>
</g>
<rect x="438.9" y="376.5" width="24.70" height="19.40" fill="#e6dee8"/>
<clipPath id="c405351i"><rect x="438.9" y="376.5" width="24.70" height="19.40"/></clipPath>
<g clip-path="url(#c405351i)"><g filter="url(#soft)">
<circle cx="449.90" cy="383.40" r="4.6" fill="#a0649f"/>
<circle cx="452.90" cy="390.50" r="4.2" fill="#a670a4"/>
<circle cx="443.30" cy="379.20" r="2.6" fill="#c49bc0"/>
</g></g>
<rect x="439.45" y="377.05" width="23.60" height="18.30" fill="none" stroke="#262626" stroke-width="1.1"/>
</g>
<text x="335.80" y="445.50" font-size="11.4" text-anchor="start" fill="#111" textLength="7.30" lengthAdjust="spacingAndGlyphs" stroke="#111" stroke-width="0.3">G</text>
<text x="343.60" y="494.00" font-size="9.2" text-anchor="middle" fill="#161616" transform="rotate(-90 343.60 494.00)" textLength="54.80" lengthAdjust="spacingAndGlyphs" stroke="#161616" stroke-width="0.2">Percent survival</text>
<line x1="365.00" y1="449.80" x2="365.00" y2="539.85" stroke="#1c1c1c" stroke-width="1.3"/>
<line x1="362.20" y1="453.00" x2="365.00" y2="453.00" stroke="#1c1c1c" stroke-width="0.9"/>
<text x="359.40" y="455.30" font-size="6.6" text-anchor="end" fill="#222" textLength="9.69" lengthAdjust="spacingAndGlyphs" stroke="#222" stroke-width="0.08">100</text>
<line x1="362.20" y1="496.20" x2="365.00" y2="496.20" stroke="#1c1c1c" stroke-width="0.9"/>
<text x="359.40" y="498.50" font-size="6.6" text-anchor="end" fill="#222" textLength="6.46" lengthAdjust="spacingAndGlyphs" stroke="#222" stroke-width="0.08">50</text>
<line x1="362.20" y1="539.20" x2="365.00" y2="539.20" stroke="#1c1c1c" stroke-width="0.9"/>
<text x="359.40" y="541.50" font-size="6.6" text-anchor="end" fill="#222" textLength="3.23" lengthAdjust="spacingAndGlyphs" stroke="#222" stroke-width="0.08">0</text>
<line x1="364.35" y1="539.20" x2="504.70" y2="539.20" stroke="#1c1c1c" stroke-width="1.3"/>
<line x1="365.00" y1="539.20" x2="365.00" y2="541.80" stroke="#1c1c1c" stroke-width="0.9"/>
<text x="365.00" y="551.00" font-size="6.2" text-anchor="middle" fill="#222" textLength="3.03" lengthAdjust="spacingAndGlyphs" stroke="#222" stroke-width="0.2">0</text>
<line x1="392.40" y1="539.20" x2="392.40" y2="541.80" stroke="#1c1c1c" stroke-width="0.9"/>
<text x="392.40" y="551.00" font-size="6.2" text-anchor="middle" fill="#222" textLength="6.07" lengthAdjust="spacingAndGlyphs" stroke="#222" stroke-width="0.2">20</text>
<line x1="419.90" y1="539.20" x2="419.90" y2="541.80" stroke="#1c1c1c" stroke-width="0.9"/>
<text x="419.90" y="551.00" font-size="6.2" text-anchor="middle" fill="#222" textLength="6.07" lengthAdjust="spacingAndGlyphs" stroke="#222" stroke-width="0.2">40</text>
<line x1="447.30" y1="539.20" x2="447.30" y2="541.80" stroke="#1c1c1c" stroke-width="0.9"/>
<text x="447.30" y="551.00" font-size="6.2" text-anchor="middle" fill="#222" textLength="6.07" lengthAdjust="spacingAndGlyphs" stroke="#222" stroke-width="0.2">60</text>
<line x1="474.60" y1="539.20" x2="474.60" y2="541.80" stroke="#1c1c1c" stroke-width="0.9"/>
<text x="474.60" y="551.00" font-size="6.2" text-anchor="middle" fill="#222" textLength="6.07" lengthAdjust="spacingAndGlyphs" stroke="#222" stroke-width="0.2">80</text>
<line x1="502.00" y1="539.20" x2="502.00" y2="541.80" stroke="#1c1c1c" stroke-width="0.9"/>
<text x="502.00" y="551.00" font-size="6.2" text-anchor="middle" fill="#222" textLength="9.10" lengthAdjust="spacingAndGlyphs" stroke="#222" stroke-width="0.2">100</text>
<text x="435.30" y="563.20" font-size="8.8" text-anchor="middle" fill="#161616" textLength="41.20" lengthAdjust="spacingAndGlyphs" stroke="#161616" stroke-width="0.2">Time (days)</text>
<text x="400.20" y="450.20" font-size="5.4" text-anchor="middle" fill="#333" textLength="45.00" lengthAdjust="spacingAndGlyphs" stroke="#333" stroke-width="0.2">all p&lt;0.01 (log-rank)</text>
<path d="M365,453.1 H454 V467.1 H467.7 V481.9 H471.5 V510.4 H474.5 V525.3 H488.4 V539" stroke="#46629c" stroke-width="1.3" fill="none"/>
<path d="M400.4,453.1 V485 H406.3 V528.8 H407.4 V539.2" stroke="#3a7a5a" stroke-width="1.3" fill="none"/>
<path d="M421.2,453.1 V467 H422 V496 H423 V527 H425 V539.2" stroke="#3a7a5a" stroke-width="1.3" fill="none" stroke-dasharray="3,1.5"/>
<path d="M423.3,453.1 V462.2 H426.4 V481.7 H427.5 V491.2 H432.2 V520.4 H437.7 V539.2" stroke="#b0283c" stroke-width="1.3" fill="none"/>
<path d="M451.2,453.1 V477.7 H458.2 V502.8 H460.9 V539.2" stroke="#b0283c" stroke-width="1.3" fill="none" stroke-dasharray="2,1.7"/>
<line x1="358.30" y1="573.80" x2="368.10" y2="573.80" stroke="#3a7a5a" stroke-width="1.1"/>
<line x1="363.20" y1="573.80" x2="363.20" y2="572.50" stroke="#3a7a5a" stroke-width="0.8"/>
<text x="370.80" y="575.70" font-size="5.4" text-anchor="start" fill="#3a3a3a" textLength="28.00" lengthAdjust="spacingAndGlyphs" stroke="#3a3a3a" stroke-width="0.05">NOMO-1 Scr</text>
<line x1="358.30" y1="583.60" x2="368.10" y2="583.60" stroke="#3a7a5a" stroke-width="1.1" stroke-dasharray="3,1.5"/>
<line x1="363.20" y1="583.60" x2="363.20" y2="582.30" stroke="#3a7a5a" stroke-width="0.8"/>
<text x="370.80" y="585.50" font-size="5.4" text-anchor="start" fill="#3a3a3a" textLength="47.10" lengthAdjust="spacingAndGlyphs" stroke="#3a3a3a" stroke-width="0.05">NOMO-1 Scr_AraC</text>
<line x1="358.30" y1="593.80" x2="368.10" y2="593.80" stroke="#b0283c" stroke-width="1.1"/>
<line x1="363.20" y1="593.80" x2="363.20" y2="592.50" stroke="#b0283c" stroke-width="0.8"/>
<text x="370.80" y="595.70" font-size="5.4" text-anchor="start" fill="#3a3a3a" textLength="46.00" lengthAdjust="spacingAndGlyphs" stroke="#3a3a3a" stroke-width="0.05">NOMO-1 shNCAM_3</text>
<line x1="431.90" y1="573.60" x2="442.20" y2="573.60" stroke="#b0283c" stroke-width="1.1" stroke-dasharray="2,1.7"/>
<line x1="437.05" y1="573.60" x2="437.05" y2="572.30" stroke="#b0283c" stroke-width="0.8"/>
<text x="444.60" y="575.50" font-size="5.4" text-anchor="start" fill="#3a3a3a" textLength="59.10" lengthAdjust="spacingAndGlyphs" stroke="#3a3a3a" stroke-width="0.05">NOMO-1 shNCAM_3_AraC</text>
<line x1="431.90" y1="583.80" x2="442.20" y2="583.80" stroke="#46629c" stroke-width="1.1"/>
<line x1="437.05" y1="583.80" x2="437.05" y2="582.50" stroke="#46629c" stroke-width="0.8"/>
<text x="444.60" y="585.70" font-size="5.4" text-anchor="start" fill="#3a3a3a" textLength="45.20" lengthAdjust="spacingAndGlyphs" stroke="#3a3a3a" stroke-width="0.05">NOMO-1 shNCAM_2</text>
</svg>
</div></body></html>
